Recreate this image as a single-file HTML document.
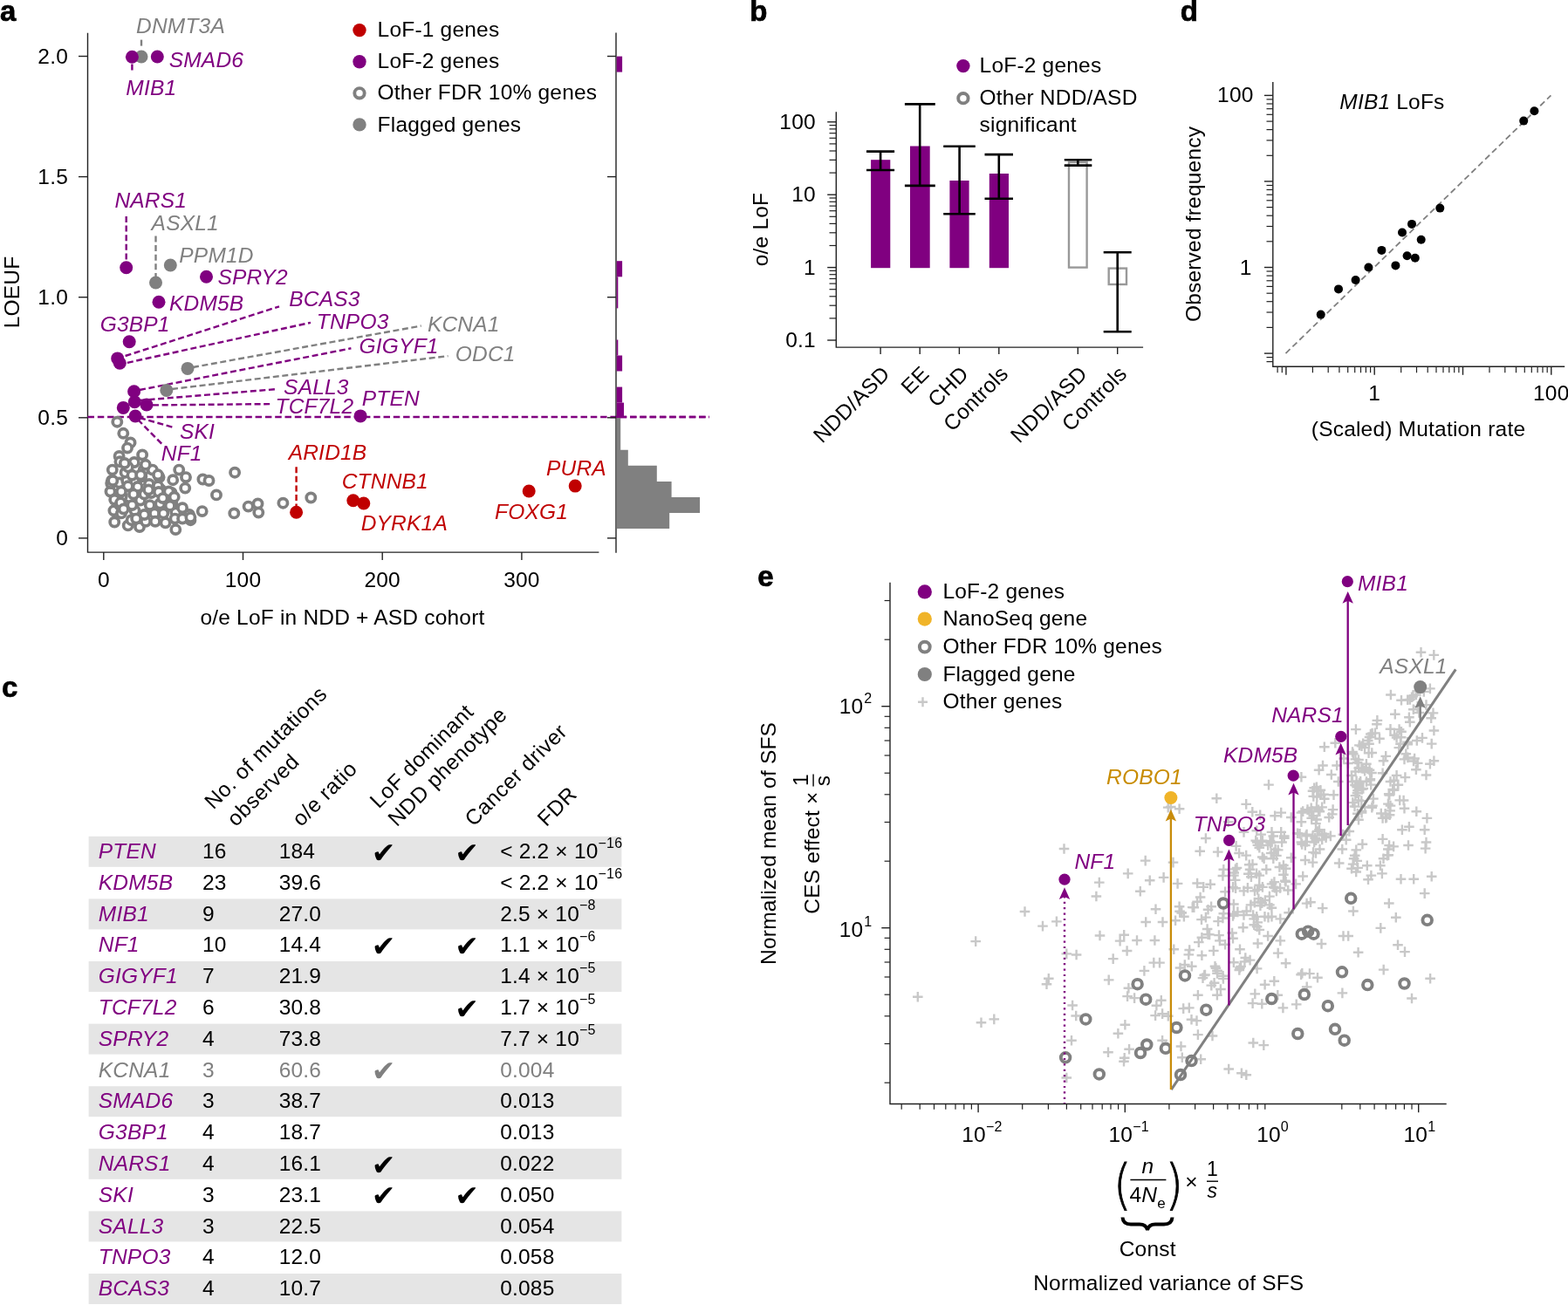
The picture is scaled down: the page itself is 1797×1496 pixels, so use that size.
<!DOCTYPE html>
<html><head><meta charset="utf-8"><title>Figure</title>
<style>html,body{margin:0;padding:0;background:#fff;}svg{display:block;}
</style></head>
<body><svg width="1797" height="1496" viewBox="0 0 1797 1496" font-family="'Liberation Sans', Arial, Helvetica, sans-serif" font-size="24.5" letter-spacing="0.2">
<rect width="1797" height="1496" fill="#fff"/>
<text x="0" y="23.8" font-size="33" font-weight="bold" stroke="#000" stroke-width="0.7">a</text>
<path d="M100.5 37.8 V633.1 H686.4" fill="none" stroke="#222" stroke-width="1.4"/>
<line x1="90" y1="64.5" x2="100.5" y2="64.5" stroke="#222" stroke-width="1.4"/>
<text x="78" y="72.9" text-anchor="end">2.0</text>
<line x1="90" y1="202.6" x2="100.5" y2="202.6" stroke="#222" stroke-width="1.4"/>
<text x="78" y="211" text-anchor="end">1.5</text>
<line x1="90" y1="340.7" x2="100.5" y2="340.7" stroke="#222" stroke-width="1.4"/>
<text x="78" y="349.1" text-anchor="end">1.0</text>
<line x1="90" y1="478.8" x2="100.5" y2="478.8" stroke="#222" stroke-width="1.4"/>
<text x="78" y="487.2" text-anchor="end">0.5</text>
<line x1="90" y1="616.9" x2="100.5" y2="616.9" stroke="#222" stroke-width="1.4"/>
<text x="78" y="625.3" text-anchor="end">0</text>
<line x1="118.8" y1="633.1" x2="118.8" y2="642" stroke="#222" stroke-width="1.4"/>
<text x="118.8" y="673.2" text-anchor="middle">0</text>
<line x1="278.5" y1="633.1" x2="278.5" y2="642" stroke="#222" stroke-width="1.4"/>
<text x="278.5" y="673.2" text-anchor="middle">100</text>
<line x1="438.2" y1="633.1" x2="438.2" y2="642" stroke="#222" stroke-width="1.4"/>
<text x="438.2" y="673.2" text-anchor="middle">200</text>
<line x1="597.9" y1="633.1" x2="597.9" y2="642" stroke="#222" stroke-width="1.4"/>
<text x="597.9" y="673.2" text-anchor="middle">300</text>
<text x="392.5" y="716.1" text-anchor="middle">o/e LoF in NDD + ASD cohort</text>
<text x="0" y="0" text-anchor="middle" transform="translate(22.1 335) rotate(-90)">LOEUF</text>
<line x1="100.5" y1="478" x2="813" y2="478" stroke="#800080" stroke-width="2.4" stroke-dasharray="7.5 3.8"/>
<circle cx="134.3" cy="483.7" r="5.1" fill="#fff" stroke="#808080" stroke-width="3.7"/>
<circle cx="141.3" cy="496.8" r="5.1" fill="#fff" stroke="#808080" stroke-width="3.7"/>
<circle cx="149.5" cy="507.4" r="5.1" fill="#fff" stroke="#808080" stroke-width="3.7"/>
<circle cx="146" cy="513.6" r="5.1" fill="#fff" stroke="#808080" stroke-width="3.7"/>
<circle cx="163.1" cy="521.4" r="5.1" fill="#fff" stroke="#808080" stroke-width="3.7"/>
<circle cx="136.6" cy="523" r="5.1" fill="#fff" stroke="#808080" stroke-width="3.7"/>
<circle cx="137.4" cy="529.2" r="5.1" fill="#fff" stroke="#808080" stroke-width="3.7"/>
<circle cx="153.8" cy="530" r="5.1" fill="#fff" stroke="#808080" stroke-width="3.7"/>
<circle cx="128.8" cy="538.6" r="5.1" fill="#fff" stroke="#808080" stroke-width="3.7"/>
<circle cx="164.7" cy="538.6" r="5.1" fill="#fff" stroke="#808080" stroke-width="3.7"/>
<circle cx="174.8" cy="538.6" r="5.1" fill="#fff" stroke="#808080" stroke-width="3.7"/>
<circle cx="205.2" cy="538.6" r="5.1" fill="#fff" stroke="#808080" stroke-width="3.7"/>
<circle cx="136.6" cy="553.4" r="5.1" fill="#fff" stroke="#808080" stroke-width="3.7"/>
<circle cx="145.2" cy="551" r="5.1" fill="#fff" stroke="#808080" stroke-width="3.7"/>
<circle cx="162.3" cy="546.3" r="5.1" fill="#fff" stroke="#808080" stroke-width="3.7"/>
<circle cx="182.6" cy="547.1" r="5.1" fill="#fff" stroke="#808080" stroke-width="3.7"/>
<circle cx="198.2" cy="550.2" r="5.1" fill="#fff" stroke="#808080" stroke-width="3.7"/>
<circle cx="213" cy="547.1" r="5.1" fill="#fff" stroke="#808080" stroke-width="3.7"/>
<circle cx="232.4" cy="549.5" r="5.1" fill="#fff" stroke="#808080" stroke-width="3.7"/>
<circle cx="239.5" cy="551" r="5.1" fill="#fff" stroke="#808080" stroke-width="3.7"/>
<circle cx="269.1" cy="541.7" r="5.1" fill="#fff" stroke="#808080" stroke-width="3.7"/>
<circle cx="126.5" cy="563.5" r="5.1" fill="#fff" stroke="#808080" stroke-width="3.7"/>
<circle cx="157.7" cy="558" r="5.1" fill="#fff" stroke="#808080" stroke-width="3.7"/>
<circle cx="170.9" cy="554.9" r="5.1" fill="#fff" stroke="#808080" stroke-width="3.7"/>
<circle cx="184.1" cy="561.1" r="5.1" fill="#fff" stroke="#808080" stroke-width="3.7"/>
<circle cx="196.6" cy="565" r="5.1" fill="#fff" stroke="#808080" stroke-width="3.7"/>
<circle cx="212.2" cy="559.6" r="5.1" fill="#fff" stroke="#808080" stroke-width="3.7"/>
<circle cx="248" cy="567.4" r="5.1" fill="#fff" stroke="#808080" stroke-width="3.7"/>
<circle cx="139.7" cy="568.9" r="5.1" fill="#fff" stroke="#808080" stroke-width="3.7"/>
<circle cx="160.8" cy="573.6" r="5.1" fill="#fff" stroke="#808080" stroke-width="3.7"/>
<circle cx="183.4" cy="577.5" r="5.1" fill="#fff" stroke="#808080" stroke-width="3.7"/>
<circle cx="197.4" cy="577.5" r="5.1" fill="#fff" stroke="#808080" stroke-width="3.7"/>
<circle cx="130.4" cy="585.3" r="5.1" fill="#fff" stroke="#808080" stroke-width="3.7"/>
<circle cx="139" cy="588.4" r="5.1" fill="#fff" stroke="#808080" stroke-width="3.7"/>
<circle cx="154.5" cy="585.3" r="5.1" fill="#fff" stroke="#808080" stroke-width="3.7"/>
<circle cx="177.1" cy="588.4" r="5.1" fill="#fff" stroke="#808080" stroke-width="3.7"/>
<circle cx="201.3" cy="587.6" r="5.1" fill="#fff" stroke="#808080" stroke-width="3.7"/>
<circle cx="216.9" cy="590" r="5.1" fill="#fff" stroke="#808080" stroke-width="3.7"/>
<circle cx="231.7" cy="586.1" r="5.1" fill="#fff" stroke="#808080" stroke-width="3.7"/>
<circle cx="268.3" cy="588.4" r="5.1" fill="#fff" stroke="#808080" stroke-width="3.7"/>
<circle cx="284.6" cy="580.6" r="5.1" fill="#fff" stroke="#808080" stroke-width="3.7"/>
<circle cx="295.5" cy="577.5" r="5.1" fill="#fff" stroke="#808080" stroke-width="3.7"/>
<circle cx="296.3" cy="587.6" r="5.1" fill="#fff" stroke="#808080" stroke-width="3.7"/>
<circle cx="324.4" cy="576.7" r="5.1" fill="#fff" stroke="#808080" stroke-width="3.7"/>
<circle cx="356.3" cy="570.5" r="5.1" fill="#fff" stroke="#808080" stroke-width="3.7"/>
<circle cx="131.2" cy="598.5" r="5.1" fill="#fff" stroke="#808080" stroke-width="3.7"/>
<circle cx="146.7" cy="602.4" r="5.1" fill="#fff" stroke="#808080" stroke-width="3.7"/>
<circle cx="150.6" cy="596.2" r="5.1" fill="#fff" stroke="#808080" stroke-width="3.7"/>
<circle cx="160" cy="604" r="5.1" fill="#fff" stroke="#808080" stroke-width="3.7"/>
<circle cx="167" cy="597.8" r="5.1" fill="#fff" stroke="#808080" stroke-width="3.7"/>
<circle cx="189.6" cy="599.3" r="5.1" fill="#fff" stroke="#808080" stroke-width="3.7"/>
<circle cx="200.5" cy="594.6" r="5.1" fill="#fff" stroke="#808080" stroke-width="3.7"/>
<circle cx="201.3" cy="607.1" r="5.1" fill="#fff" stroke="#808080" stroke-width="3.7"/>
<circle cx="218.4" cy="596.2" r="5.1" fill="#fff" stroke="#808080" stroke-width="3.7"/>
<circle cx="143.6" cy="541.7" r="5.1" fill="#fff" stroke="#808080" stroke-width="3.7"/>
<circle cx="146.7" cy="557.3" r="5.1" fill="#fff" stroke="#808080" stroke-width="3.7"/>
<circle cx="153" cy="566.6" r="5.1" fill="#fff" stroke="#808080" stroke-width="3.7"/>
<circle cx="143.6" cy="579.1" r="5.1" fill="#fff" stroke="#808080" stroke-width="3.7"/>
<circle cx="165.4" cy="566.6" r="5.1" fill="#fff" stroke="#808080" stroke-width="3.7"/>
<circle cx="171.7" cy="579.1" r="5.1" fill="#fff" stroke="#808080" stroke-width="3.7"/>
<circle cx="187.3" cy="569.7" r="5.1" fill="#fff" stroke="#808080" stroke-width="3.7"/>
<circle cx="193.5" cy="563.5" r="5.1" fill="#fff" stroke="#808080" stroke-width="3.7"/>
<circle cx="199.7" cy="569.7" r="5.1" fill="#fff" stroke="#808080" stroke-width="3.7"/>
<circle cx="209.1" cy="582.2" r="5.1" fill="#fff" stroke="#808080" stroke-width="3.7"/>
<circle cx="165.4" cy="590" r="5.1" fill="#fff" stroke="#808080" stroke-width="3.7"/>
<circle cx="187.3" cy="588.4" r="5.1" fill="#fff" stroke="#808080" stroke-width="3.7"/>
<circle cx="146.7" cy="535.4" r="5.1" fill="#fff" stroke="#808080" stroke-width="3.7"/>
<circle cx="139" cy="563.5" r="5.1" fill="#fff" stroke="#808080" stroke-width="3.7"/>
<circle cx="131.2" cy="572.8" r="5.1" fill="#fff" stroke="#808080" stroke-width="3.7"/>
<circle cx="151.4" cy="544.8" r="5.1" fill="#fff" stroke="#808080" stroke-width="3.7"/>
<circle cx="173.2" cy="565" r="5.1" fill="#fff" stroke="#808080" stroke-width="3.7"/>
<circle cx="181" cy="557.3" r="5.1" fill="#fff" stroke="#808080" stroke-width="3.7"/>
<circle cx="193.5" cy="579.1" r="5.1" fill="#fff" stroke="#808080" stroke-width="3.7"/>
<circle cx="209.1" cy="594.6" r="5.1" fill="#fff" stroke="#808080" stroke-width="3.7"/>
<circle cx="218.4" cy="593.1" r="5.1" fill="#fff" stroke="#808080" stroke-width="3.7"/>
<circle cx="177.9" cy="597.8" r="5.1" fill="#fff" stroke="#808080" stroke-width="3.7"/>
<circle cx="156.1" cy="594.6" r="5.1" fill="#fff" stroke="#808080" stroke-width="3.7"/>
<circle cx="137.4" cy="579.1" r="5.1" fill="#fff" stroke="#808080" stroke-width="3.7"/>
<circle cx="128" cy="551" r="5.1" fill="#fff" stroke="#808080" stroke-width="3.7"/>
<circle cx="151.4" cy="579.1" r="5.1" fill="#fff" stroke="#808080" stroke-width="3.7"/>
<circle cx="138.2" cy="576.3" r="5.1" fill="#fff" stroke="#808080" stroke-width="3.7"/>
<circle cx="170.2" cy="561.5" r="5.1" fill="#fff" stroke="#808080" stroke-width="3.7"/>
<circle cx="141.7" cy="583.5" r="5.1" fill="#fff" stroke="#808080" stroke-width="3.7"/>
<circle cx="181.9" cy="563.9" r="5.1" fill="#fff" stroke="#808080" stroke-width="3.7"/>
<circle cx="161.3" cy="544.5" r="5.1" fill="#fff" stroke="#808080" stroke-width="3.7"/>
<circle cx="127.2" cy="554" r="5.1" fill="#fff" stroke="#808080" stroke-width="3.7"/>
<circle cx="166.8" cy="532.8" r="5.1" fill="#fff" stroke="#808080" stroke-width="3.7"/>
<circle cx="181" cy="544.3" r="5.1" fill="#fff" stroke="#808080" stroke-width="3.7"/>
<circle cx="142.8" cy="531" r="5.1" fill="#fff" stroke="#808080" stroke-width="3.7"/>
<circle cx="194.8" cy="579.7" r="5.1" fill="#fff" stroke="#808080" stroke-width="3.7"/>
<circle cx="186.5" cy="571.1" r="5.1" fill="#fff" stroke="#808080" stroke-width="3.7"/>
<circle cx="129.3" cy="551" r="5.1" fill="#fff" stroke="#808080" stroke-width="3.7"/>
<line x1="162" y1="45.6" x2="162" y2="55.7" stroke="#808080" stroke-width="2.4" stroke-dasharray="7 3.6"/>
<line x1="151.4" y1="73.5" x2="151.4" y2="81.3" stroke="#800080" stroke-width="2.4" stroke-dasharray="7 3.6"/>
<line x1="144.7" y1="248" x2="144.7" y2="298" stroke="#800080" stroke-width="2.4" stroke-dasharray="7 3.6"/>
<line x1="178.5" y1="270.5" x2="178.5" y2="318" stroke="#808080" stroke-width="2.4" stroke-dasharray="7 3.6"/>
<line x1="143.6" y1="408" x2="320" y2="351.3" stroke="#800080" stroke-width="2.4" stroke-dasharray="7 3.6"/>
<line x1="145.9" y1="415.8" x2="356" y2="369.8" stroke="#800080" stroke-width="2.4" stroke-dasharray="7 3.6"/>
<line x1="221" y1="421" x2="482.7" y2="373.5" stroke="#808080" stroke-width="2.4" stroke-dasharray="7 3.6"/>
<line x1="160" y1="447" x2="402.4" y2="399.3" stroke="#800080" stroke-width="2.4" stroke-dasharray="7 3.6"/>
<line x1="197" y1="446" x2="513.5" y2="408.1" stroke="#808080" stroke-width="2.4" stroke-dasharray="7 3.6"/>
<line x1="160" y1="459" x2="318" y2="446" stroke="#800080" stroke-width="2.4" stroke-dasharray="7 3.6"/>
<line x1="175" y1="464.4" x2="310.7" y2="463.1" stroke="#800080" stroke-width="2.4" stroke-dasharray="7 3.6"/>
<line x1="160" y1="479" x2="200.4" y2="490.4" stroke="#800080" stroke-width="2.4" stroke-dasharray="7 3.6"/>
<line x1="158" y1="481" x2="187" y2="510.5" stroke="#800080" stroke-width="2.4" stroke-dasharray="7 3.6"/>
<line x1="339.6" y1="535.2" x2="339.6" y2="581.5" stroke="#c00000" stroke-width="2.4" stroke-dasharray="7 3.6"/>
<circle cx="162" cy="65" r="7.5" fill="#808080"/>
<circle cx="151.4" cy="65.2" r="7.5" fill="#800080"/>
<circle cx="180.3" cy="65" r="7.5" fill="#800080"/>
<circle cx="144.7" cy="306.8" r="7.5" fill="#800080"/>
<circle cx="236.5" cy="317.3" r="7.5" fill="#800080"/>
<circle cx="182" cy="346.3" r="7.5" fill="#800080"/>
<circle cx="148.2" cy="391.7" r="7.5" fill="#800080"/>
<circle cx="134.7" cy="410.9" r="7.5" fill="#800080"/>
<circle cx="137.3" cy="416.2" r="7.5" fill="#800080"/>
<circle cx="153.6" cy="448.7" r="7.5" fill="#800080"/>
<circle cx="154.3" cy="460.8" r="7.5" fill="#800080"/>
<circle cx="168" cy="464" r="7.5" fill="#800080"/>
<circle cx="141.3" cy="467.4" r="7.5" fill="#800080"/>
<circle cx="155.1" cy="477" r="7.5" fill="#800080"/>
<circle cx="413.1" cy="476.9" r="7.5" fill="#800080"/>
<circle cx="178.5" cy="324" r="7.5" fill="#808080"/>
<circle cx="195.3" cy="304" r="7.5" fill="#808080"/>
<circle cx="215" cy="422.4" r="7.5" fill="#808080"/>
<circle cx="190.8" cy="447.4" r="7.5" fill="#808080"/>
<circle cx="339.6" cy="587.2" r="7.5" fill="#c00000"/>
<circle cx="404.8" cy="573.7" r="7.5" fill="#c00000"/>
<circle cx="416.8" cy="577" r="7.5" fill="#c00000"/>
<circle cx="606.2" cy="563" r="7.5" fill="#c00000"/>
<circle cx="659.2" cy="557.1" r="7.5" fill="#c00000"/>
<text x="156" y="38.3" font-style="italic" fill="#808080">DNMT3A</text>
<text x="193.7" y="76.8" font-style="italic" fill="#800080">SMAD6</text>
<text x="144.3" y="108.7" font-style="italic" fill="#800080">MIB1</text>
<text x="131.4" y="238.3" font-style="italic" fill="#800080">NARS1</text>
<text x="173.6" y="263.8" font-style="italic" fill="#808080">ASXL1</text>
<text x="205.3" y="300.5" font-style="italic" fill="#808080">PPM1D</text>
<text x="249.4" y="326" font-style="italic" fill="#800080">SPRY2</text>
<text x="194" y="355.6" font-style="italic" fill="#800080">KDM5B</text>
<text x="331.3" y="350.5" font-style="italic" fill="#800080">BCAS3</text>
<text x="114.7" y="379.7" font-style="italic" fill="#800080">G3BP1</text>
<text x="362.8" y="376.6" font-style="italic" fill="#800080">TNPO3</text>
<text x="489.9" y="379.7" font-style="italic" fill="#808080">KCNA1</text>
<text x="411.6" y="405.4" font-style="italic" fill="#800080">GIGYF1</text>
<text x="521.8" y="414.3" font-style="italic" fill="#808080">ODC1</text>
<text x="325.1" y="451.8" font-style="italic" fill="#800080">SALL3</text>
<text x="315.5" y="474" font-style="italic" fill="#800080">TCF7L2</text>
<text x="414.7" y="465.2" font-style="italic" fill="#800080">PTEN</text>
<text x="206" y="502.6" font-style="italic" fill="#800080">SKI</text>
<text x="184.8" y="527.5" font-style="italic" fill="#800080">NF1</text>
<text x="330.7" y="526.9" font-style="italic" fill="#c00000">ARID1B</text>
<text x="391.7" y="559.9" font-style="italic" fill="#c00000">CTNNB1</text>
<text x="413.7" y="608.2" font-style="italic" fill="#c00000">DYRK1A</text>
<text x="567" y="594.9" font-style="italic" fill="#c00000">FOXG1</text>
<text x="626" y="544.6" font-style="italic" fill="#c00000">PURA</text>
<circle cx="412" cy="34.6" r="7.7" fill="#c00000"/>
<text x="432.6" y="42.2">LoF-1 genes</text>
<circle cx="412" cy="70.7" r="7.7" fill="#800080"/>
<text x="432.6" y="78.3">LoF-2 genes</text>
<circle cx="412" cy="106.8" r="5.7" fill="#fff" stroke="#808080" stroke-width="3.9"/>
<text x="432.6" y="114.4">Other FDR 10% genes</text>
<circle cx="412" cy="142.9" r="7.7" fill="#808080"/>
<text x="432.6" y="150.5">Flagged genes</text>
<path d="M706 37.6 V633.7" fill="none" stroke="#222" stroke-width="1.4"/>
<line x1="696" y1="64.5" x2="706" y2="64.5" stroke="#222" stroke-width="1.4"/>
<line x1="696" y1="202.6" x2="706" y2="202.6" stroke="#222" stroke-width="1.4"/>
<line x1="696" y1="340.7" x2="706" y2="340.7" stroke="#222" stroke-width="1.4"/>
<line x1="696" y1="478.8" x2="706" y2="478.8" stroke="#222" stroke-width="1.4"/>
<line x1="696" y1="616.9" x2="706" y2="616.9" stroke="#222" stroke-width="1.4"/>
<rect x="706.7" y="64.6" width="6.4" height="18" fill="#800080"/>
<rect x="706.7" y="299.2" width="6.4" height="18.1" fill="#800080"/>
<rect x="706.7" y="317.3" width="1.6" height="36.1" fill="#800080"/>
<rect x="706.7" y="389.5" width="1.6" height="18" fill="#800080"/>
<rect x="706.7" y="407.5" width="6.4" height="18" fill="#800080"/>
<rect x="706.7" y="443.6" width="6.4" height="18" fill="#800080"/>
<rect x="706.7" y="461.6" width="8.3" height="17.4" fill="#800080"/>
<path d="M706.7 479H711.2V515.8H719.8V533.8H752.8V551.9H769.6V569.9H802.1V588H767.2V606H706.7Z" fill="#808080"/>
<line x1="706" y1="478" x2="813" y2="478" stroke="#800080" stroke-width="2.4" stroke-dasharray="7.5 3.8" stroke-dashoffset="6.6"/>
<text x="859.2" y="23.8" font-size="33" font-weight="bold" stroke="#000" stroke-width="0.7">b</text>
<path d="M958.3 128.2 V398.1 H1310.1" fill="none" stroke="#222" stroke-width="1.4"/>
<line x1="948.2" y1="390" x2="958.3" y2="390" stroke="#222" stroke-width="1.4"/>
<line x1="948.2" y1="306.6" x2="958.3" y2="306.6" stroke="#222" stroke-width="1.4"/>
<line x1="948.2" y1="223.2" x2="958.3" y2="223.2" stroke="#222" stroke-width="1.4"/>
<line x1="948.2" y1="139.8" x2="958.3" y2="139.8" stroke="#222" stroke-width="1.4"/>
<line x1="950.5" y1="364.9" x2="958.3" y2="364.9" stroke="#222" stroke-width="1.2"/>
<line x1="950.5" y1="350.2" x2="958.3" y2="350.2" stroke="#222" stroke-width="1.2"/>
<line x1="950.5" y1="339.8" x2="958.3" y2="339.8" stroke="#222" stroke-width="1.2"/>
<line x1="950.5" y1="331.7" x2="958.3" y2="331.7" stroke="#222" stroke-width="1.2"/>
<line x1="950.5" y1="325.1" x2="958.3" y2="325.1" stroke="#222" stroke-width="1.2"/>
<line x1="950.5" y1="319.5" x2="958.3" y2="319.5" stroke="#222" stroke-width="1.2"/>
<line x1="950.5" y1="314.7" x2="958.3" y2="314.7" stroke="#222" stroke-width="1.2"/>
<line x1="950.5" y1="310.4" x2="958.3" y2="310.4" stroke="#222" stroke-width="1.2"/>
<line x1="950.5" y1="281.5" x2="958.3" y2="281.5" stroke="#222" stroke-width="1.2"/>
<line x1="950.5" y1="266.8" x2="958.3" y2="266.8" stroke="#222" stroke-width="1.2"/>
<line x1="950.5" y1="256.4" x2="958.3" y2="256.4" stroke="#222" stroke-width="1.2"/>
<line x1="950.5" y1="248.3" x2="958.3" y2="248.3" stroke="#222" stroke-width="1.2"/>
<line x1="950.5" y1="241.7" x2="958.3" y2="241.7" stroke="#222" stroke-width="1.2"/>
<line x1="950.5" y1="236.1" x2="958.3" y2="236.1" stroke="#222" stroke-width="1.2"/>
<line x1="950.5" y1="231.3" x2="958.3" y2="231.3" stroke="#222" stroke-width="1.2"/>
<line x1="950.5" y1="227" x2="958.3" y2="227" stroke="#222" stroke-width="1.2"/>
<line x1="950.5" y1="198.1" x2="958.3" y2="198.1" stroke="#222" stroke-width="1.2"/>
<line x1="950.5" y1="183.4" x2="958.3" y2="183.4" stroke="#222" stroke-width="1.2"/>
<line x1="950.5" y1="173" x2="958.3" y2="173" stroke="#222" stroke-width="1.2"/>
<line x1="950.5" y1="164.9" x2="958.3" y2="164.9" stroke="#222" stroke-width="1.2"/>
<line x1="950.5" y1="158.3" x2="958.3" y2="158.3" stroke="#222" stroke-width="1.2"/>
<line x1="950.5" y1="152.7" x2="958.3" y2="152.7" stroke="#222" stroke-width="1.2"/>
<line x1="950.5" y1="147.9" x2="958.3" y2="147.9" stroke="#222" stroke-width="1.2"/>
<line x1="950.5" y1="143.6" x2="958.3" y2="143.6" stroke="#222" stroke-width="1.2"/>
<text x="934.8" y="148" text-anchor="end">100</text>
<text x="934.8" y="231.4" text-anchor="end">10</text>
<text x="934.8" y="314.8" text-anchor="end">1</text>
<text x="934.8" y="398.2" text-anchor="end">0.1</text>
<text x="0" y="0" text-anchor="middle" transform="translate(879.5 263) rotate(-90)">o/e LoF</text>
<rect x="998.1" y="183.2" width="22.2" height="124" fill="#800080"/>
<rect x="1043" y="167.5" width="22.7" height="139.7" fill="#800080"/>
<rect x="1088.4" y="207" width="22.2" height="100.2" fill="#800080"/>
<rect x="1133.8" y="199" width="22.2" height="108.2" fill="#800080"/>
<rect x="1225" y="186" width="20.6" height="120.6" fill="none" stroke="#999" stroke-width="2.4"/>
<rect x="1270.7" y="307.6" width="20.3" height="18.4" fill="none" stroke="#999" stroke-width="2.4"/>
<line x1="1009.1" y1="173.6" x2="1009.1" y2="195" stroke="#000" stroke-width="2.6"/>
<line x1="993" y1="173.6" x2="1025.1" y2="173.6" stroke="#000" stroke-width="2.6"/>
<line x1="993" y1="195" x2="1025.1" y2="195" stroke="#000" stroke-width="2.6"/>
<line x1="1054.2" y1="119.4" x2="1054.2" y2="212.9" stroke="#000" stroke-width="2.6"/>
<line x1="1036.9" y1="119.4" x2="1071.8" y2="119.4" stroke="#000" stroke-width="2.6"/>
<line x1="1036.9" y1="212.9" x2="1071.8" y2="212.9" stroke="#000" stroke-width="2.6"/>
<line x1="1099.6" y1="167.7" x2="1099.6" y2="245.2" stroke="#000" stroke-width="2.6"/>
<line x1="1081.2" y1="167.7" x2="1117.8" y2="167.7" stroke="#000" stroke-width="2.6"/>
<line x1="1081.2" y1="245.2" x2="1117.8" y2="245.2" stroke="#000" stroke-width="2.6"/>
<line x1="1144.8" y1="177.1" x2="1144.8" y2="227.8" stroke="#000" stroke-width="2.6"/>
<line x1="1128.5" y1="177.1" x2="1161" y2="177.1" stroke="#000" stroke-width="2.6"/>
<line x1="1128.5" y1="227.8" x2="1161" y2="227.8" stroke="#000" stroke-width="2.6"/>
<line x1="1235.3" y1="183.2" x2="1235.3" y2="189.6" stroke="#000" stroke-width="2.6"/>
<line x1="1219.8" y1="183.2" x2="1251.3" y2="183.2" stroke="#000" stroke-width="2.6"/>
<line x1="1219.8" y1="189.6" x2="1251.3" y2="189.6" stroke="#000" stroke-width="2.6"/>
<line x1="1280.7" y1="289.3" x2="1280.7" y2="380.2" stroke="#000" stroke-width="2.6"/>
<line x1="1264.7" y1="289.3" x2="1296.7" y2="289.3" stroke="#000" stroke-width="2.6"/>
<line x1="1264.7" y1="380.2" x2="1296.7" y2="380.2" stroke="#000" stroke-width="2.6"/>
<line x1="1009.1" y1="398.1" x2="1009.1" y2="406" stroke="#222" stroke-width="1.4"/>
<line x1="1054.2" y1="398.1" x2="1054.2" y2="406" stroke="#222" stroke-width="1.4"/>
<line x1="1099.4" y1="398.1" x2="1099.4" y2="406" stroke="#222" stroke-width="1.4"/>
<line x1="1144.8" y1="398.1" x2="1144.8" y2="406" stroke="#222" stroke-width="1.4"/>
<line x1="1235.3" y1="398.1" x2="1235.3" y2="406" stroke="#222" stroke-width="1.4"/>
<line x1="1280.7" y1="398.1" x2="1280.7" y2="406" stroke="#222" stroke-width="1.4"/>
<text x="0" y="0" text-anchor="end" transform="translate(1021.1 430) rotate(-45)">NDD/ASD</text>
<text x="0" y="0" text-anchor="end" transform="translate(1066.2 430) rotate(-45)">EE</text>
<text x="0" y="0" text-anchor="end" transform="translate(1111.4 430) rotate(-45)">CHD</text>
<text x="0" y="0" text-anchor="end" transform="translate(1156.8 430) rotate(-45)">Controls</text>
<text x="0" y="0" text-anchor="end" transform="translate(1247.3 430) rotate(-45)">NDD/ASD</text>
<text x="0" y="0" text-anchor="end" transform="translate(1292.7 430) rotate(-45)">Controls</text>
<circle cx="1103.9" cy="75.6" r="7.7" fill="#800080"/>
<text x="1122.6" y="82.6">LoF-2 genes</text>
<circle cx="1103.9" cy="112.7" r="5.7" fill="#fff" stroke="#808080" stroke-width="3.9"/>
<text x="1122.6" y="120.4">Other NDD/ASD</text>
<text x="1122.6" y="150.9">significant</text>
<text x="1352.7" y="24.2" font-size="33" font-weight="bold" stroke="#000" stroke-width="0.7">d</text>
<path d="M1458.8 94.1 V420.2 H1793.2" fill="none" stroke="#222" stroke-width="1.4"/>
<line x1="1448.9" y1="405.1" x2="1458.8" y2="405.1" stroke="#222" stroke-width="1.4"/>
<line x1="1473.9" y1="420.2" x2="1473.9" y2="429.8" stroke="#222" stroke-width="1.4"/>
<line x1="1448.9" y1="306.5" x2="1458.8" y2="306.5" stroke="#222" stroke-width="1.4"/>
<line x1="1575.2" y1="420.2" x2="1575.2" y2="429.8" stroke="#222" stroke-width="1.4"/>
<line x1="1448.9" y1="207.9" x2="1458.8" y2="207.9" stroke="#222" stroke-width="1.4"/>
<line x1="1676.5" y1="420.2" x2="1676.5" y2="429.8" stroke="#222" stroke-width="1.4"/>
<line x1="1448.9" y1="109.4" x2="1458.8" y2="109.4" stroke="#222" stroke-width="1.4"/>
<line x1="1777.8" y1="420.2" x2="1777.8" y2="429.8" stroke="#222" stroke-width="1.4"/>
<line x1="1451.5" y1="414.6" x2="1458.8" y2="414.6" stroke="#222" stroke-width="1.2"/>
<line x1="1464.1" y1="420.2" x2="1464.1" y2="427.3" stroke="#222" stroke-width="1.2"/>
<line x1="1451.5" y1="409.6" x2="1458.8" y2="409.6" stroke="#222" stroke-width="1.2"/>
<line x1="1469.3" y1="420.2" x2="1469.3" y2="427.3" stroke="#222" stroke-width="1.2"/>
<line x1="1451.5" y1="375.4" x2="1458.8" y2="375.4" stroke="#222" stroke-width="1.2"/>
<line x1="1504.4" y1="420.2" x2="1504.4" y2="427.3" stroke="#222" stroke-width="1.2"/>
<line x1="1451.5" y1="358" x2="1458.8" y2="358" stroke="#222" stroke-width="1.2"/>
<line x1="1522.2" y1="420.2" x2="1522.2" y2="427.3" stroke="#222" stroke-width="1.2"/>
<line x1="1451.5" y1="345.7" x2="1458.8" y2="345.7" stroke="#222" stroke-width="1.2"/>
<line x1="1534.9" y1="420.2" x2="1534.9" y2="427.3" stroke="#222" stroke-width="1.2"/>
<line x1="1451.5" y1="336.2" x2="1458.8" y2="336.2" stroke="#222" stroke-width="1.2"/>
<line x1="1544.7" y1="420.2" x2="1544.7" y2="427.3" stroke="#222" stroke-width="1.2"/>
<line x1="1451.5" y1="328.4" x2="1458.8" y2="328.4" stroke="#222" stroke-width="1.2"/>
<line x1="1552.7" y1="420.2" x2="1552.7" y2="427.3" stroke="#222" stroke-width="1.2"/>
<line x1="1451.5" y1="321.8" x2="1458.8" y2="321.8" stroke="#222" stroke-width="1.2"/>
<line x1="1559.5" y1="420.2" x2="1559.5" y2="427.3" stroke="#222" stroke-width="1.2"/>
<line x1="1451.5" y1="316.1" x2="1458.8" y2="316.1" stroke="#222" stroke-width="1.2"/>
<line x1="1565.4" y1="420.2" x2="1565.4" y2="427.3" stroke="#222" stroke-width="1.2"/>
<line x1="1451.5" y1="311" x2="1458.8" y2="311" stroke="#222" stroke-width="1.2"/>
<line x1="1570.6" y1="420.2" x2="1570.6" y2="427.3" stroke="#222" stroke-width="1.2"/>
<line x1="1451.5" y1="276.8" x2="1458.8" y2="276.8" stroke="#222" stroke-width="1.2"/>
<line x1="1605.7" y1="420.2" x2="1605.7" y2="427.3" stroke="#222" stroke-width="1.2"/>
<line x1="1451.5" y1="259.5" x2="1458.8" y2="259.5" stroke="#222" stroke-width="1.2"/>
<line x1="1623.5" y1="420.2" x2="1623.5" y2="427.3" stroke="#222" stroke-width="1.2"/>
<line x1="1451.5" y1="247.2" x2="1458.8" y2="247.2" stroke="#222" stroke-width="1.2"/>
<line x1="1636.2" y1="420.2" x2="1636.2" y2="427.3" stroke="#222" stroke-width="1.2"/>
<line x1="1451.5" y1="237.6" x2="1458.8" y2="237.6" stroke="#222" stroke-width="1.2"/>
<line x1="1646" y1="420.2" x2="1646" y2="427.3" stroke="#222" stroke-width="1.2"/>
<line x1="1451.5" y1="229.8" x2="1458.8" y2="229.8" stroke="#222" stroke-width="1.2"/>
<line x1="1654" y1="420.2" x2="1654" y2="427.3" stroke="#222" stroke-width="1.2"/>
<line x1="1451.5" y1="223.2" x2="1458.8" y2="223.2" stroke="#222" stroke-width="1.2"/>
<line x1="1660.8" y1="420.2" x2="1660.8" y2="427.3" stroke="#222" stroke-width="1.2"/>
<line x1="1451.5" y1="217.5" x2="1458.8" y2="217.5" stroke="#222" stroke-width="1.2"/>
<line x1="1666.7" y1="420.2" x2="1666.7" y2="427.3" stroke="#222" stroke-width="1.2"/>
<line x1="1451.5" y1="212.5" x2="1458.8" y2="212.5" stroke="#222" stroke-width="1.2"/>
<line x1="1671.9" y1="420.2" x2="1671.9" y2="427.3" stroke="#222" stroke-width="1.2"/>
<line x1="1451.5" y1="178.3" x2="1458.8" y2="178.3" stroke="#222" stroke-width="1.2"/>
<line x1="1707" y1="420.2" x2="1707" y2="427.3" stroke="#222" stroke-width="1.2"/>
<line x1="1451.5" y1="160.9" x2="1458.8" y2="160.9" stroke="#222" stroke-width="1.2"/>
<line x1="1724.8" y1="420.2" x2="1724.8" y2="427.3" stroke="#222" stroke-width="1.2"/>
<line x1="1451.5" y1="148.6" x2="1458.8" y2="148.6" stroke="#222" stroke-width="1.2"/>
<line x1="1737.5" y1="420.2" x2="1737.5" y2="427.3" stroke="#222" stroke-width="1.2"/>
<line x1="1451.5" y1="139.1" x2="1458.8" y2="139.1" stroke="#222" stroke-width="1.2"/>
<line x1="1747.3" y1="420.2" x2="1747.3" y2="427.3" stroke="#222" stroke-width="1.2"/>
<line x1="1451.5" y1="131.3" x2="1458.8" y2="131.3" stroke="#222" stroke-width="1.2"/>
<line x1="1755.3" y1="420.2" x2="1755.3" y2="427.3" stroke="#222" stroke-width="1.2"/>
<line x1="1451.5" y1="124.7" x2="1458.8" y2="124.7" stroke="#222" stroke-width="1.2"/>
<line x1="1762.1" y1="420.2" x2="1762.1" y2="427.3" stroke="#222" stroke-width="1.2"/>
<line x1="1451.5" y1="119" x2="1458.8" y2="119" stroke="#222" stroke-width="1.2"/>
<line x1="1768" y1="420.2" x2="1768" y2="427.3" stroke="#222" stroke-width="1.2"/>
<line x1="1451.5" y1="113.9" x2="1458.8" y2="113.9" stroke="#222" stroke-width="1.2"/>
<line x1="1773.2" y1="420.2" x2="1773.2" y2="427.3" stroke="#222" stroke-width="1.2"/>
<text x="1436.6" y="116.9" text-anchor="end">100</text>
<text x="1434.6" y="314.6" text-anchor="end">1</text>
<text x="1575.2" y="459.1" text-anchor="middle">1</text>
<text x="1777.8" y="459.1" text-anchor="middle">100</text>
<text x="1625.5" y="499.8" text-anchor="middle">(Scaled) Mutation rate</text>
<text x="0" y="0" text-anchor="middle" transform="translate(1375.6 257) rotate(-90)">Observed frequency</text>
<text x="1535.3" y="124.6"><tspan font-style="italic">MIB1</tspan> LoFs</text>
<line x1="1473.5" y1="405.1" x2="1777.4" y2="109.4" stroke="#808080" stroke-width="1.8" stroke-dasharray="7 4"/>
<circle cx="1513.7" cy="360.6" r="5" fill="#000"/>
<circle cx="1534" cy="331.4" r="5" fill="#000"/>
<circle cx="1553.6" cy="321" r="5" fill="#000"/>
<circle cx="1568.4" cy="306.5" r="5" fill="#000"/>
<circle cx="1583.4" cy="286.9" r="5" fill="#000"/>
<circle cx="1599.4" cy="304.4" r="5" fill="#000"/>
<circle cx="1607" cy="266.5" r="5" fill="#000"/>
<circle cx="1612.6" cy="293.2" r="5" fill="#000"/>
<circle cx="1618" cy="256.9" r="5" fill="#000"/>
<circle cx="1621.8" cy="295.8" r="5" fill="#000"/>
<circle cx="1628.7" cy="274.7" r="5" fill="#000"/>
<circle cx="1650.3" cy="238.6" r="5" fill="#000"/>
<circle cx="1746.2" cy="138.6" r="5" fill="#000"/>
<circle cx="1758.4" cy="127.2" r="5" fill="#000"/>
<text x="1.9" y="798.6" font-size="33" font-weight="bold" stroke="#000" stroke-width="0.7">c</text>
<rect x="101.6" y="958.8" width="610.8" height="35" fill="#e5e5e5"/>
<text x="112.8" y="984" font-style="italic" fill="#800080">PTEN</text>
<text x="232" y="984">16</text>
<text x="319.7" y="984">184</text>
<text x="439.6" y="988.5" font-size="33" text-anchor="middle" font-family="DejaVu Sans">✔</text>
<text x="535.3" y="988.5" font-size="33" text-anchor="middle" font-family="DejaVu Sans">✔</text>
<text x="573.2" y="984">&lt; 2.2 × 10<tspan font-size="16" dy="-12.5">−16</tspan></text>
<text x="112.8" y="1019.8" font-style="italic" fill="#800080">KDM5B</text>
<text x="232" y="1019.8">23</text>
<text x="319.7" y="1019.8">39.6</text>
<text x="573.2" y="1019.8">&lt; 2.2 × 10<tspan font-size="16" dy="-12.5">−16</tspan></text>
<rect x="101.6" y="1030.4" width="610.8" height="35" fill="#e5e5e5"/>
<text x="112.8" y="1055.6" font-style="italic" fill="#800080">MIB1</text>
<text x="232" y="1055.6">9</text>
<text x="319.7" y="1055.6">27.0</text>
<text x="573.2" y="1055.6">2.5 × 10<tspan font-size="16" dy="-12.5">−8</tspan></text>
<text x="112.8" y="1091.4" font-style="italic" fill="#800080">NF1</text>
<text x="232" y="1091.4">10</text>
<text x="319.7" y="1091.4">14.4</text>
<text x="439.6" y="1095.9" font-size="33" text-anchor="middle" font-family="DejaVu Sans">✔</text>
<text x="535.3" y="1095.9" font-size="33" text-anchor="middle" font-family="DejaVu Sans">✔</text>
<text x="573.2" y="1091.4">1.1 × 10<tspan font-size="16" dy="-12.5">−6</tspan></text>
<rect x="101.6" y="1102" width="610.8" height="35" fill="#e5e5e5"/>
<text x="112.8" y="1127.2" font-style="italic" fill="#800080">GIGYF1</text>
<text x="232" y="1127.2">7</text>
<text x="319.7" y="1127.2">21.9</text>
<text x="573.2" y="1127.2">1.4 × 10<tspan font-size="16" dy="-12.5">−5</tspan></text>
<text x="112.8" y="1163" font-style="italic" fill="#800080">TCF7L2</text>
<text x="232" y="1163">6</text>
<text x="319.7" y="1163">30.8</text>
<text x="535.3" y="1167.5" font-size="33" text-anchor="middle" font-family="DejaVu Sans">✔</text>
<text x="573.2" y="1163">1.7 × 10<tspan font-size="16" dy="-12.5">−5</tspan></text>
<rect x="101.6" y="1173.6" width="610.8" height="35" fill="#e5e5e5"/>
<text x="112.8" y="1198.8" font-style="italic" fill="#800080">SPRY2</text>
<text x="232" y="1198.8">4</text>
<text x="319.7" y="1198.8">73.8</text>
<text x="573.2" y="1198.8">7.7 × 10<tspan font-size="16" dy="-12.5">−5</tspan></text>
<text x="112.8" y="1234.6" font-style="italic" fill="#808080">KCNA1</text>
<text x="232" y="1234.6" fill="#808080">3</text>
<text x="319.7" y="1234.6" fill="#808080">60.6</text>
<text x="439.6" y="1239.1" font-size="33" text-anchor="middle" fill="#808080" font-family="DejaVu Sans">✔</text>
<text x="573.2" y="1234.6" fill="#808080">0.004</text>
<rect x="101.6" y="1245.2" width="610.8" height="35" fill="#e5e5e5"/>
<text x="112.8" y="1270.4" font-style="italic" fill="#800080">SMAD6</text>
<text x="232" y="1270.4">3</text>
<text x="319.7" y="1270.4">38.7</text>
<text x="573.2" y="1270.4">0.013</text>
<text x="112.8" y="1306.2" font-style="italic" fill="#800080">G3BP1</text>
<text x="232" y="1306.2">4</text>
<text x="319.7" y="1306.2">18.7</text>
<text x="573.2" y="1306.2">0.013</text>
<rect x="101.6" y="1316.8" width="610.8" height="35" fill="#e5e5e5"/>
<text x="112.8" y="1342" font-style="italic" fill="#800080">NARS1</text>
<text x="232" y="1342">4</text>
<text x="319.7" y="1342">16.1</text>
<text x="439.6" y="1346.5" font-size="33" text-anchor="middle" font-family="DejaVu Sans">✔</text>
<text x="573.2" y="1342">0.022</text>
<text x="112.8" y="1377.8" font-style="italic" fill="#800080">SKI</text>
<text x="232" y="1377.8">3</text>
<text x="319.7" y="1377.8">23.1</text>
<text x="439.6" y="1382.3" font-size="33" text-anchor="middle" font-family="DejaVu Sans">✔</text>
<text x="535.3" y="1382.3" font-size="33" text-anchor="middle" font-family="DejaVu Sans">✔</text>
<text x="573.2" y="1377.8">0.050</text>
<rect x="101.6" y="1388.4" width="610.8" height="35" fill="#e5e5e5"/>
<text x="112.8" y="1413.6" font-style="italic" fill="#800080">SALL3</text>
<text x="232" y="1413.6">3</text>
<text x="319.7" y="1413.6">22.5</text>
<text x="573.2" y="1413.6">0.054</text>
<text x="112.8" y="1449.4" font-style="italic" fill="#800080">TNPO3</text>
<text x="232" y="1449.4">4</text>
<text x="319.7" y="1449.4">12.0</text>
<text x="573.2" y="1449.4">0.058</text>
<rect x="101.6" y="1460" width="610.8" height="35" fill="#e5e5e5"/>
<text x="112.8" y="1485.2" font-style="italic" fill="#800080">BCAS3</text>
<text x="232" y="1485.2">4</text>
<text x="319.7" y="1485.2">10.7</text>
<text x="573.2" y="1485.2">0.085</text>
<text x="0" y="0" letter-spacing="0.5" transform="translate(244.5 928.8) rotate(-45)">No. of mutations</text>
<text x="0" y="0" letter-spacing="0.5" transform="translate(270.3 948.6) rotate(-45)">observed</text>
<text x="0" y="0" letter-spacing="0.5" transform="translate(345 948.6) rotate(-45)">o/e ratio</text>
<text x="0" y="0" letter-spacing="0.5" transform="translate(433.9 927.8) rotate(-45)">LoF dominant</text>
<text x="0" y="0" letter-spacing="0.5" transform="translate(454.7 948.6) rotate(-45)">NDD phenotype</text>
<text x="0" y="0" letter-spacing="0.5" transform="translate(542.7 948.6) rotate(-45)">Cancer driver</text>
<text x="0" y="0" letter-spacing="0.5" transform="translate(626 948.6) rotate(-45)">FDR</text>
<text x="868.3" y="672" font-size="33" font-weight="bold" stroke="#000" stroke-width="0.7">e</text>
<path d="M1020 667.8 V1265.5 H1657.7" fill="none" stroke="#222" stroke-width="1.4"/>
<line x1="1010.3" y1="1063.7" x2="1020" y2="1063.7" stroke="#222" stroke-width="1.4"/>
<line x1="1010.3" y1="809.7" x2="1020" y2="809.7" stroke="#222" stroke-width="1.4"/>
<line x1="1013.6" y1="1241.2" x2="1020" y2="1241.2" stroke="#222" stroke-width="1.2"/>
<line x1="1013.6" y1="1196.5" x2="1020" y2="1196.5" stroke="#222" stroke-width="1.2"/>
<line x1="1013.6" y1="1164.8" x2="1020" y2="1164.8" stroke="#222" stroke-width="1.2"/>
<line x1="1013.6" y1="1140.2" x2="1020" y2="1140.2" stroke="#222" stroke-width="1.2"/>
<line x1="1013.6" y1="1120" x2="1020" y2="1120" stroke="#222" stroke-width="1.2"/>
<line x1="1013.6" y1="1103" x2="1020" y2="1103" stroke="#222" stroke-width="1.2"/>
<line x1="1013.6" y1="1088.3" x2="1020" y2="1088.3" stroke="#222" stroke-width="1.2"/>
<line x1="1013.6" y1="1075.3" x2="1020" y2="1075.3" stroke="#222" stroke-width="1.2"/>
<line x1="1013.6" y1="987.2" x2="1020" y2="987.2" stroke="#222" stroke-width="1.2"/>
<line x1="1013.6" y1="942.5" x2="1020" y2="942.5" stroke="#222" stroke-width="1.2"/>
<line x1="1013.6" y1="910.8" x2="1020" y2="910.8" stroke="#222" stroke-width="1.2"/>
<line x1="1013.6" y1="886.2" x2="1020" y2="886.2" stroke="#222" stroke-width="1.2"/>
<line x1="1013.6" y1="866" x2="1020" y2="866" stroke="#222" stroke-width="1.2"/>
<line x1="1013.6" y1="849" x2="1020" y2="849" stroke="#222" stroke-width="1.2"/>
<line x1="1013.6" y1="834.3" x2="1020" y2="834.3" stroke="#222" stroke-width="1.2"/>
<line x1="1013.6" y1="821.3" x2="1020" y2="821.3" stroke="#222" stroke-width="1.2"/>
<line x1="1013.6" y1="733.2" x2="1020" y2="733.2" stroke="#222" stroke-width="1.2"/>
<line x1="1013.6" y1="688.5" x2="1020" y2="688.5" stroke="#222" stroke-width="1.2"/>
<line x1="1121.1" y1="1265.5" x2="1121.1" y2="1275.2" stroke="#222" stroke-width="1.4"/>
<line x1="1289.3" y1="1265.5" x2="1289.3" y2="1275.2" stroke="#222" stroke-width="1.4"/>
<line x1="1625.7" y1="1265.5" x2="1625.7" y2="1275.2" stroke="#222" stroke-width="1.4"/>
<line x1="1033.2" y1="1265.5" x2="1033.2" y2="1271.8" stroke="#222" stroke-width="1.2"/>
<line x1="1054.2" y1="1265.5" x2="1054.2" y2="1271.8" stroke="#222" stroke-width="1.2"/>
<line x1="1070.5" y1="1265.5" x2="1070.5" y2="1271.8" stroke="#222" stroke-width="1.2"/>
<line x1="1083.8" y1="1265.5" x2="1083.8" y2="1271.8" stroke="#222" stroke-width="1.2"/>
<line x1="1095" y1="1265.5" x2="1095" y2="1271.8" stroke="#222" stroke-width="1.2"/>
<line x1="1104.8" y1="1265.5" x2="1104.8" y2="1271.8" stroke="#222" stroke-width="1.2"/>
<line x1="1113.4" y1="1265.5" x2="1113.4" y2="1271.8" stroke="#222" stroke-width="1.2"/>
<line x1="1171.7" y1="1265.5" x2="1171.7" y2="1271.8" stroke="#222" stroke-width="1.2"/>
<line x1="1201.4" y1="1265.5" x2="1201.4" y2="1271.8" stroke="#222" stroke-width="1.2"/>
<line x1="1222.4" y1="1265.5" x2="1222.4" y2="1271.8" stroke="#222" stroke-width="1.2"/>
<line x1="1238.7" y1="1265.5" x2="1238.7" y2="1271.8" stroke="#222" stroke-width="1.2"/>
<line x1="1252" y1="1265.5" x2="1252" y2="1271.8" stroke="#222" stroke-width="1.2"/>
<line x1="1263.2" y1="1265.5" x2="1263.2" y2="1271.8" stroke="#222" stroke-width="1.2"/>
<line x1="1273" y1="1265.5" x2="1273" y2="1271.8" stroke="#222" stroke-width="1.2"/>
<line x1="1281.6" y1="1265.5" x2="1281.6" y2="1271.8" stroke="#222" stroke-width="1.2"/>
<line x1="1339.9" y1="1265.5" x2="1339.9" y2="1271.8" stroke="#222" stroke-width="1.2"/>
<line x1="1369.6" y1="1265.5" x2="1369.6" y2="1271.8" stroke="#222" stroke-width="1.2"/>
<line x1="1390.6" y1="1265.5" x2="1390.6" y2="1271.8" stroke="#222" stroke-width="1.2"/>
<line x1="1406.9" y1="1265.5" x2="1406.9" y2="1271.8" stroke="#222" stroke-width="1.2"/>
<line x1="1420.2" y1="1265.5" x2="1420.2" y2="1271.8" stroke="#222" stroke-width="1.2"/>
<line x1="1431.4" y1="1265.5" x2="1431.4" y2="1271.8" stroke="#222" stroke-width="1.2"/>
<line x1="1441.2" y1="1265.5" x2="1441.2" y2="1271.8" stroke="#222" stroke-width="1.2"/>
<line x1="1449.8" y1="1265.5" x2="1449.8" y2="1271.8" stroke="#222" stroke-width="1.2"/>
<line x1="1537.8" y1="1265.5" x2="1537.8" y2="1271.8" stroke="#222" stroke-width="1.2"/>
<line x1="1558.8" y1="1265.5" x2="1558.8" y2="1271.8" stroke="#222" stroke-width="1.2"/>
<line x1="1575.1" y1="1265.5" x2="1575.1" y2="1271.8" stroke="#222" stroke-width="1.2"/>
<line x1="1588.4" y1="1265.5" x2="1588.4" y2="1271.8" stroke="#222" stroke-width="1.2"/>
<line x1="1599.6" y1="1265.5" x2="1599.6" y2="1271.8" stroke="#222" stroke-width="1.2"/>
<line x1="1609.4" y1="1265.5" x2="1609.4" y2="1271.8" stroke="#222" stroke-width="1.2"/>
<line x1="1618" y1="1265.5" x2="1618" y2="1271.8" stroke="#222" stroke-width="1.2"/>
<text x="989.4" y="818.1" text-anchor="end">10</text><text x="990.3" y="806" font-size="16">2</text>
<text x="989.4" y="1073.8" text-anchor="end">10</text><text x="990.3" y="1061.7" font-size="16">1</text>
<text x="1102.3" y="1309.4">10<tspan font-size="16" dy="-12">−2</tspan></text>
<text x="1270.5" y="1309.4">10<tspan font-size="16" dy="-12">−1</tspan></text>
<text x="1440.2" y="1309.4">10<tspan font-size="16" dy="-12">0</tspan></text>
<text x="1608.5" y="1309.4">10<tspan font-size="16" dy="-12">1</tspan></text>
<text x="0" y="0" text-anchor="middle" transform="translate(888.9 966.9) rotate(-90)">Normalized mean of SFS</text>
<g transform="translate(939.4 907.5) rotate(-90)"><text x="0" y="0" text-anchor="end">CES effect ×</text><text x="13.5" y="-13.5" text-anchor="middle">1</text><line x1="6" y1="-7.3" x2="20" y2="-7.3" stroke="#000" stroke-width="1.4"/><text x="12.5" y="11.8" text-anchor="middle">s</text></g>
<text x="0" y="0" font-family="DejaVu Sans" font-weight="200" font-size="62" letter-spacing="0" stroke="#000" stroke-width="0.9" transform="translate(1276 1379) scale(0.85 1)">(</text>
<text x="0" y="0" font-family="DejaVu Sans" font-weight="200" font-size="62" letter-spacing="0" stroke="#000" stroke-width="0.9" transform="translate(1335.5 1379) scale(0.85 1)">)</text>
<text x="1315.5" y="1345.1" text-anchor="middle" font-style="italic">n</text>
<line x1="1295.4" y1="1352.5" x2="1336.4" y2="1352.5" stroke="#000" stroke-width="1.5"/>
<text x="1294.4" y="1377.5">4<tspan font-style="italic">N</tspan><tspan font-size="17" dy="7.7">e</tspan></text>
<text x="1365.5" y="1362.5" text-anchor="middle">×</text>
<text x="1389.4" y="1347.5" font-size="23" text-anchor="middle">1</text>
<line x1="1383" y1="1354.2" x2="1396" y2="1354.2" stroke="#000" stroke-width="1.4"/>
<text x="1389.4" y="1372.9" font-size="23" text-anchor="middle" font-style="italic">s</text>
<path d="M1286.5 1395.5 Q1287 1403.5 1296 1403.5 H1306 Q1313.5 1403.5 1315 1410 Q1316.5 1403.5 1324 1403.5 H1334 Q1343 1403.5 1343.5 1395.5" fill="none" stroke="#000" stroke-width="4"/>
<text x="1315.2" y="1440.3" text-anchor="middle">Const</text>
<text x="1339.3" y="1478.7" text-anchor="middle">Normalized variance of SFS</text>
<path d="M1213.7 973h11.6M1219.5 967.2v11.6M1254 1011.6h11.6M1259.8 1005.8v11.6M1250.6 1027.5h11.6M1256.4 1021.7v11.6M1286.9 1001.4h11.6M1292.7 995.6v11.6M1306.9 986.6h11.6M1312.7 980.8v11.6M1301 1021.8h11.6M1306.8 1016v11.6M1311.9 1009.3h11.6M1317.7 1003.5v11.6M1327.8 1005.9h11.6M1333.6 1000.1v11.6M1318.7 1042.3h11.6M1324.5 1036.5v11.6M1307.4 1057h11.6M1313.2 1051.2v11.6M1326.7 1057h11.6M1332.5 1051.2v11.6M1168.7 1045h11.6M1174.5 1039.2v11.6M1189.2 1061.6h11.6M1195 1055.8v11.6M1205.1 1056.4h11.6M1210.9 1050.6v11.6M1112.4 1079.1h11.6M1118.2 1073.3v11.6M1254.7 1072.5h11.6M1260.5 1066.7v11.6M1282.4 1071.8h11.6M1288.2 1066v11.6M1277.8 1078.6h11.6M1283.6 1072.8v11.6M1297.2 1078h11.6M1303 1072.2v11.6M1317.6 1078h11.6M1323.4 1072.2v11.6M1285.8 1090h11.6M1291.6 1084.2v11.6M1216.5 1093.4h11.6M1222.3 1087.6v11.6M1227.8 1094.5h11.6M1233.6 1088.7v11.6M1269.9 1099.1h11.6M1275.7 1093.3v11.6M1316.5 1103.6h11.6M1322.3 1097.8v11.6M1323.2 1103.6h11.6M1329 1097.8v11.6M1196 1121.8h11.6M1201.8 1116v11.6M1193.7 1128.2h11.6M1199.5 1122.4v11.6M1046 1142.7h11.6M1051.8 1136.9v11.6M1223.3 1152.5h11.6M1229.1 1146.7v11.6M1227.4 1164.5h11.6M1233.2 1158.7v11.6M1118.7 1172.3h11.6M1124.5 1166.5v11.6M1133.5 1168.4h11.6M1139.3 1162.6v11.6M1222.2 1192.7h11.6M1228 1186.9v11.6M1216.5 1235.5h11.6M1222.3 1229.7v11.6M1332.9 925.6h11.6M1338.7 919.8v11.6M1634.9 1004.8h11.6M1640.7 999v11.6M1614.4 1007.7h11.6M1620.2 1001.9v11.6M1599.7 1007.7h11.6M1605.5 1001.9v11.6M1626.9 1024.1h11.6M1632.7 1018.3v11.6M1586 1035.5h11.6M1591.8 1029.7v11.6M1594 1051.8h11.6M1599.8 1046v11.6M1576.5 1063.9h11.6M1582.3 1058.1v11.6M1596.2 1083.2h11.6M1602 1077.4v11.6M1604.2 1091.1h11.6M1610 1085.3v11.6M1550.8 1091.8h11.6M1556.6 1086v11.6M1579.9 1111.6h11.6M1585.7 1105.8v11.6M1633.3 1121.8h11.6M1639.1 1116v11.6M1612.2 1144.5h11.6M1618 1138.7v11.6M1532.6 1138.4h11.6M1538.4 1132.6v11.6M1533.7 1073h11.6M1539.5 1067.2v11.6M1539.4 1073h11.6M1545.2 1067.2v11.6M1545.1 1044.5h11.6M1550.9 1038.7v11.6M1509.9 1041.1h11.6M1515.7 1035.3v11.6M1496.2 1034.3h11.6M1502 1028.5v11.6M1508.7 1082h11.6M1514.5 1076.2v11.6M1495.1 1116.1h11.6M1500.9 1110.3v11.6M1504.2 1120.7h11.6M1510 1114.9v11.6M1578.1 1001.4h11.6M1583.9 995.6v11.6M1565.6 1003.6h11.6M1571.4 997.8v11.6M1562.2 1008.2h11.6M1568 1002.4v11.6M1622.7 747.8h11.6M1628.5 742v11.6M1637.5 750.9h11.6M1643.3 745.1v11.6M1633.1 789.4h11.6M1638.9 783.6v11.6M1588.1 796.5h11.6M1593.9 790.7v11.6M1600.2 802.7h11.6M1606 796.9v11.6M1610 801.9h11.6M1615.8 796.1v11.6M1613.5 798.3h11.6M1619.3 792.5v11.6M1617.1 796.5h11.6M1622.9 790.7v11.6M1626 792.9h11.6M1631.8 787.1v11.6M1628.7 808.1h11.6M1634.5 802.3v11.6M1618.9 809.9h11.6M1624.7 804.1v11.6M1593 818.8h11.6M1598.8 813v11.6M1609.1 822.3h11.6M1614.9 816.5v11.6M1610 827.7h11.6M1615.8 821.9v11.6M1620.6 817h11.6M1626.4 811.2v11.6M1636.7 817.4h11.6M1642.5 811.6v11.6M1634.4 823.2h11.6M1640.2 817.4v11.6M1572.6 825.9h11.6M1578.4 820.1v11.6M1572.1 830.3h11.6M1577.9 824.5v11.6M1587.7 835.7h11.6M1593.5 829.9v11.6M1600.2 838.8h11.6M1606 833v11.6M1592.2 842.8h11.6M1598 837v11.6M1594.8 845.5h11.6M1600.6 839.7v11.6M1637.6 837.5h11.6M1643.4 831.7v11.6M1548.1 836.1h11.6M1553.9 830.3v11.6M1566.8 840.6h11.6M1572.6 834.8v11.6M1575.2 846.8h11.6M1581 841v11.6M1563.7 845h11.6M1569.5 839.2v11.6M1561.9 849h11.6M1567.7 843.2v11.6M1624.2 845.9h11.6M1630 840.1v11.6M1618 849h11.6M1623.8 843.2v11.6M1634.9 852.6h11.6M1640.7 846.8v11.6M1607.3 850.8h11.6M1613.1 845v11.6M1597.5 857.1h11.6M1603.3 851.3v11.6M1512 856.2h11.6M1517.8 850.4v11.6M1524.5 851.7h11.6M1530.3 845.9v11.6M1552.1 854.4h11.6M1557.9 848.6v11.6M1558.3 857.1h11.6M1564.1 851.3v11.6M1545 864.2h11.6M1550.8 858.4v11.6M1562.8 863.3h11.6M1568.6 857.5v11.6M1547.6 870.4h11.6M1553.4 864.6v11.6M1582.4 866.9h11.6M1588.2 861.1v11.6M1579.7 872.2h11.6M1585.5 866.4v11.6M1605.5 864.2h11.6M1611.3 858.4v11.6M1603.7 870.4h11.6M1609.5 864.6v11.6M1615.3 869.5h11.6M1621.1 863.7v11.6M1618.9 874.9h11.6M1624.7 869.1v11.6M1637.6 872.2h11.6M1643.4 866.4v11.6M1633.1 875.8h11.6M1638.9 870v11.6M1510.2 877.5h11.6M1516 871.7v11.6M1526.3 877.5h11.6M1532.1 871.7v11.6M1560.1 875.8h11.6M1565.9 870v11.6M1534.3 869.5h11.6M1540.1 863.7v11.6M1505.8 882.7h11.6M1511.6 876.9v11.6M1520 888h11.6M1525.8 882.2v11.6M1547.6 884.5h11.6M1553.4 878.7v11.6M1558.3 883.6h11.6M1564.1 877.8v11.6M1563.7 882.7h11.6M1569.5 876.9v11.6M1578.8 886.2h11.6M1584.6 880.4v11.6M1528 896h11.6M1533.8 890.2v11.6M1544.1 896h11.6M1549.9 890.2v11.6M1552.1 897.8h11.6M1557.9 892v11.6M1564.5 894.2h11.6M1570.3 888.4v11.6M1565.4 899.6h11.6M1571.2 893.8v11.6M1556.5 904h11.6M1562.3 898.2v11.6M1549.4 902.3h11.6M1555.2 896.5v11.6M1503.1 902.3h11.6M1508.9 896.5v11.6M1507.6 905.8h11.6M1513.4 900v11.6M1498.7 906.7h11.6M1504.5 900.9v11.6M1508.4 911.2h11.6M1514.2 905.4v11.6M1522.7 911.2h11.6M1528.5 905.4v11.6M1499.5 912.9h11.6M1505.3 907.1v11.6M1547.6 912.1h11.6M1553.4 906.3v11.6M1551.2 917.4h11.6M1557 911.6v11.6M1546.7 924.5h11.6M1552.5 918.7v11.6M1503.1 925.4h11.6M1508.9 919.6v11.6M1509.3 925.4h11.6M1515.1 919.6v11.6M1521.8 928.1h11.6M1527.6 922.3v11.6M1497.8 929.9h11.6M1503.6 924.1v11.6M1499.5 935.2h11.6M1505.3 929.4v11.6M1517.4 937h11.6M1523.2 931.2v11.6M1520.9 933.4h11.6M1526.7 927.6v11.6M1554.8 929.9h11.6M1560.6 924.1v11.6M1551.2 939.7h11.6M1557 933.9v11.6M1502.2 944.1h11.6M1508 938.3v11.6M1504 953h11.6M1509.8 947.2v11.6M1498.7 958.4h11.6M1504.5 952.6v11.6M1509.3 957.5h11.6M1515.1 951.7v11.6M1519.1 958.4h11.6M1524.9 952.6v11.6M1513.8 960.1h11.6M1519.6 954.3v11.6M1533.4 956.6h11.6M1539.2 950.8v11.6M1540.5 953h11.6M1546.3 947.2v11.6M1536.9 962.8h11.6M1542.7 957v11.6M1500.4 965.5h11.6M1506.2 959.7v11.6M1506.7 973.5h11.6M1512.5 967.7v11.6M1502.2 978h11.6M1508 972.2v11.6M1498.7 988.6h11.6M1504.5 982.8v11.6M1532.5 973.5h11.6M1538.3 967.7v11.6M1528.9 989.5h11.6M1534.7 983.7v11.6M1545.8 984.2h11.6M1551.6 978.4v11.6M1549.4 986.9h11.6M1555.2 981.1v11.6M1548.5 974.4h11.6M1554.3 968.6v11.6M1555.6 967.7h11.6M1561.4 961.9v11.6M1561 992.2h11.6M1566.8 986.4v11.6M1543.2 995.8h11.6M1549 990v11.6M1576.1 992.2h11.6M1581.9 986.4v11.6M1550.3 994.9h11.6M1556.1 989.1v11.6M1594.8 888.9h11.6M1600.6 883.1v11.6M1604.6 891.1h11.6M1610.4 885.3v11.6M1628.7 888.5h11.6M1634.5 882.7v11.6M1617.1 882.2h11.6M1622.9 876.4v11.6M1587.7 896h11.6M1593.5 890.2v11.6M1596.6 899.6h11.6M1602.4 893.8v11.6M1590.4 904.9h11.6M1596.2 899.1v11.6M1585.9 910.3h11.6M1591.7 904.5v11.6M1598.4 917.4h11.6M1604.2 911.6v11.6M1567.2 923.6h11.6M1573 917.8v11.6M1568.1 915.6h11.6M1573.9 909.8v11.6M1587.7 923.6h11.6M1593.5 917.8v11.6M1603.7 926.7h11.6M1609.5 920.9v11.6M1617.5 930.3h11.6M1623.3 924.5v11.6M1577 932.5h11.6M1582.8 926.7v11.6M1586.8 934.3h11.6M1592.6 928.5v11.6M1578.8 937.9h11.6M1584.6 932.1v11.6M1583.2 937h11.6M1589 931.2v11.6M1629.6 937.9h11.6M1635.4 932.1v11.6M1554.8 931.6h11.6M1560.6 925.8v11.6M1609.1 947.7h11.6M1614.9 941.9v11.6M1601.1 951.2h11.6M1606.9 945.4v11.6M1626.9 951.2h11.6M1632.7 945.4v11.6M1578.8 961.9h11.6M1584.6 956.1v11.6M1591.3 970.4h11.6M1597.1 964.6v11.6M1608.2 969h11.6M1614 963.2v11.6M1628.7 965.5h11.6M1634.5 959.7v11.6M1627.8 972.6h11.6M1633.6 966.8v11.6M1585 973.5h11.6M1590.8 967.7v11.6M1584.1 980.6h11.6M1589.9 974.8v11.6M1579.7 984.2h11.6M1585.5 978.4v11.6M1485.6 890.7h11.6M1491.4 884.9v11.6M1448.2 899.6h11.6M1454 893.8v11.6M1388.5 915.2h11.6M1394.3 909.4v11.6M1422.4 921.9h11.6M1428.2 916.1v11.6M1345.8 927.2h11.6M1351.6 921.4v11.6M1336 925h11.6M1341.8 919.2v11.6M1429.5 930.8h11.6M1435.3 925v11.6M1438.4 934.3h11.6M1444.2 928.5v11.6M1455.3 935.2h11.6M1461.1 929.4v11.6M1462.4 931.6h11.6M1468.2 925.8v11.6M1474 937h11.6M1479.8 931.2v11.6M1485.6 931.6h11.6M1491.4 925.8v11.6M1492.7 928.1h11.6M1498.5 922.3v11.6M1401.9 942.3h11.6M1407.7 936.5v11.6M1485.6 942.3h11.6M1491.4 936.5v11.6M1419.7 953.9h11.6M1425.5 948.1v11.6M1439.3 956.6h11.6M1445.1 950.8v11.6M1451.7 953.9h11.6M1457.5 948.1v11.6M1462.4 953.9h11.6M1468.2 948.1v11.6M1466 958.4h11.6M1471.8 952.6v11.6M1483.8 955.7h11.6M1489.6 949.9v11.6M1490.9 958.4h11.6M1496.7 952.6v11.6M1376.1 961h11.6M1381.9 955.2v11.6M1434.8 965.5h11.6M1440.6 959.7v11.6M1441.1 963.7h11.6M1446.9 957.9v11.6M1451.7 965.5h11.6M1457.5 959.7v11.6M1463.3 965.5h11.6M1469.1 959.7v11.6M1485.6 965.5h11.6M1491.4 959.7v11.6M1437.5 971.7h11.6M1443.3 965.9v11.6M1447.3 969h11.6M1453.1 963.2v11.6M1458.9 974.4h11.6M1464.7 968.6v11.6M1410.8 969.9h11.6M1416.6 964.1v11.6M1490 969h11.6M1495.8 963.2v11.6M1369.4 975.7h11.6M1375.2 969.9v11.6M1389.9 976.6h11.6M1395.7 970.8v11.6M1414.3 978h11.6M1420.1 972.2v11.6M1422.4 980.6h11.6M1428.2 974.8v11.6M1442.8 984.2h11.6M1448.6 978.4v11.6M1450.9 978h11.6M1456.7 972.2v11.6M1453.5 984.2h11.6M1459.3 978.4v11.6M1474 983.3h11.6M1479.8 977.5v11.6M1490 986h11.6M1495.8 980.2v11.6M1338.7 988.6h11.6M1344.5 982.8v11.6M1396.5 996.7h11.6M1402.3 990.9v11.6M1411.7 994.9h11.6M1417.5 989.1v11.6M1425.9 991.3h11.6M1431.7 985.5v11.6M1426.8 996.7h11.6M1432.6 990.9v11.6M1445.5 996.7h11.6M1451.3 990.9v11.6M1460.6 994h11.6M1466.4 988.2v11.6M1467.8 995.8h11.6M1473.6 990v11.6M1343.8 1012.9h11.6M1349.6 1007.1v11.6M1366.3 1012.5h11.6M1372.1 1006.7v11.6M1373.4 1016.9h11.6M1379.2 1011.1v11.6M1381.4 1013.8h11.6M1387.2 1008v11.6M1395.6 1004h11.6M1401.4 998.2v11.6M1408.1 1003.6h11.6M1413.9 997.8v11.6M1425 1001.8h11.6M1430.8 996v11.6M1437.5 1003.6h11.6M1443.3 997.8v11.6M1465.1 1002.7h11.6M1470.9 996.9v11.6M1487.4 1004.5h11.6M1493.2 998.7v11.6M1479.3 1013.4h11.6M1485.1 1007.6v11.6M1409.9 1008.9h11.6M1415.7 1003.1v11.6M1407.2 1016.9h11.6M1413 1011.1v11.6M1419.7 1021.4h11.6M1425.5 1015.6v11.6M1424.1 1017.8h11.6M1429.9 1012v11.6M1432.2 1021.4h11.6M1438 1015.6v11.6M1441.1 1016.9h11.6M1446.9 1011.1v11.6M1451.7 1013.4h11.6M1457.5 1007.6v11.6M1455.3 1017.8h11.6M1461.1 1012v11.6M1467.8 1010.7h11.6M1473.6 1004.9v11.6M1470.4 1020.5h11.6M1476.2 1014.7v11.6M1457.1 1021.4h11.6M1462.9 1015.6v11.6M1398.3 1022.3h11.6M1404.1 1016.5v11.6M1449.1 1027.6h11.6M1454.9 1021.8v11.6M1436.6 1030.3h11.6M1442.4 1024.5v11.6M1439.3 1033.8h11.6M1445.1 1028v11.6M1427.7 1037.4h11.6M1433.5 1031.6v11.6M1449.1 1037.4h11.6M1454.9 1031.6v11.6M1369.8 1028.5h11.6M1375.6 1022.7v11.6M1366.3 1033.8h11.6M1372.1 1028v11.6M1360.9 1040.1h11.6M1366.7 1034.3v11.6M1345.8 1039.2h11.6M1351.6 1033.4v11.6M1348.4 1046.3h11.6M1354.2 1040.5v11.6M1351.1 1050.8h11.6M1356.9 1045v11.6M1341.3 1055.2h11.6M1347.1 1049.4v11.6M1382.3 1039.2h11.6M1388.1 1033.4v11.6M1378.7 1042.7h11.6M1384.5 1036.9v11.6M1408.1 1036.5h11.6M1413.9 1030.7v11.6M1412.6 1045.4h11.6M1418.4 1039.6v11.6M1407.2 1049.9h11.6M1413 1044.1v11.6M1419.7 1049h11.6M1425.5 1043.2v11.6M1430.4 1049h11.6M1436.2 1043.2v11.6M1431.3 1053.4h11.6M1437.1 1047.6v11.6M1443.7 1050.8h11.6M1449.5 1045v11.6M1451.7 1050.8h11.6M1457.5 1045v11.6M1461.5 1053.4h11.6M1467.3 1047.6v11.6M1471.3 1046.3h11.6M1477.1 1040.5v11.6M1376.1 1051.6h11.6M1381.9 1045.8v11.6M1390.3 1056.1h11.6M1396.1 1050.3v11.6M1396.5 1047.2h11.6M1402.3 1041.4v11.6M1395.6 1052.5h11.6M1401.4 1046.7v11.6M1418.8 1063.2h11.6M1424.6 1057.4v11.6M1434.8 1062.3h11.6M1440.6 1056.5v11.6M1437.5 1065.9h11.6M1443.3 1060.1v11.6M1377.8 1065h11.6M1383.6 1059.2v11.6M1378.7 1071.2h11.6M1384.5 1065.4v11.6M1391.2 1072.1h11.6M1397 1066.3v11.6M1371.6 1074.8h11.6M1377.4 1069v11.6M1368 1080.1h11.6M1373.8 1074.3v11.6M1392.1 1078.4h11.6M1397.9 1072.6v11.6M1398.3 1082.8h11.6M1404.1 1077v11.6M1406.3 1069.5h11.6M1412.1 1063.7v11.6M1407.2 1075.7h11.6M1413 1069.9v11.6M1447.3 1073h11.6M1453.1 1067.2v11.6M1461.5 1078.4h11.6M1467.3 1072.6v11.6M1435.7 1081.5h11.6M1441.5 1075.7v11.6M1385 1089.9h11.6M1390.8 1084.1v11.6M1357.4 1089h11.6M1363.2 1083.2v11.6M1356.5 1094.4h11.6M1362.3 1088.6v11.6M1371.6 1095.3h11.6M1377.4 1089.5v11.6M1339.5 1088.2h11.6M1345.3 1082.4v11.6M1415.2 1088.2h11.6M1421 1082.4v11.6M1458.9 1092.6h11.6M1464.7 1086.8v11.6M1421.5 1098h11.6M1427.3 1092.2v11.6M1426.8 1100.6h11.6M1432.6 1094.8v11.6M1408.1 1103.3h11.6M1413.9 1097.5v11.6M1415.2 1109.5h11.6M1421 1103.7v11.6M1386.7 1107.7h11.6M1392.5 1101.9v11.6M1352 1106h11.6M1357.8 1100.2v11.6M1360 1107.7h11.6M1365.8 1101.9v11.6M1346.7 1109.5h11.6M1352.5 1103.7v11.6M1375.2 1117.5h11.6M1381 1111.7v11.6M1389.4 1113.1h11.6M1395.2 1107.3v11.6M1434.8 1110.4h11.6M1440.6 1104.6v11.6M1467.8 1104.2h11.6M1473.6 1098.4v11.6M1486.5 1115.8h11.6M1492.3 1110v11.6M1491.8 1035.6h11.6M1497.6 1029.8v11.6M1305.6 1112.9h11.6M1311.4 1107.1v11.6M1264.9 1123.4h11.6M1270.7 1117.6v11.6M1287.6 1132.7h11.6M1293.4 1126.9v11.6M1286.3 1142.1h11.6M1292.1 1136.3v11.6M1294.3 1144.1h11.6M1300.1 1138.3v11.6M1325 1146.7h11.6M1330.8 1140.9v11.6M1319.6 1152.7h11.6M1325.4 1146.9v11.6M1326.3 1162.1h11.6M1332.1 1156.3v11.6M1318.3 1164.1h11.6M1324.1 1158.3v11.6M1333 1164.8h11.6M1338.8 1159v11.6M1283.6 1174.8h11.6M1289.4 1169v11.6M1275.6 1184.8h11.6M1281.4 1179v11.6M1326.3 1192.8h11.6M1332.1 1187v11.6M1288.3 1202.8h11.6M1294.1 1197v11.6M1264.2 1206.2h11.6M1270 1200.4v11.6M1282.9 1212.8h11.6M1288.7 1207v11.6M1282.2 1216.8h11.6M1288 1211v11.6M1374.4 1118h11.6M1380.2 1112.2v11.6M1389.1 1112.7h11.6M1394.9 1106.9v11.6M1395.8 1118.7h11.6M1401.6 1112.9v11.6M1414.5 1112h11.6M1420.3 1106.2v11.6M1385.8 1126.7h11.6M1391.6 1120.9v11.6M1393.1 1134h11.6M1398.9 1128.2v11.6M1389.1 1140.7h11.6M1394.9 1134.9v11.6M1367.1 1140.7h11.6M1372.9 1134.9v11.6M1350.4 1156.1h11.6M1356.2 1150.3v11.6M1357 1155.4h11.6M1362.8 1149.6v11.6M1359.7 1168.8h11.6M1365.5 1163v11.6M1365.7 1170.1h11.6M1371.5 1164.3v11.6M1367.1 1186.1h11.6M1372.9 1180.3v11.6M1383.7 1187.5h11.6M1389.5 1181.7v11.6M1347.7 1199.5h11.6M1353.5 1193.7v11.6M1349 1212.2h11.6M1354.8 1206.4v11.6M1370.4 1214.2h11.6M1376.2 1208.4v11.6M1402.4 1225.5h11.6M1408.2 1219.7v11.6M1417.1 1230.2h11.6M1422.9 1224.4v11.6M1422.5 1232.2h11.6M1428.3 1226.4v11.6M1430.5 1195.5h11.6M1436.3 1189.7v11.6M1442.5 1198.1h11.6M1448.3 1192.3v11.6M1432.5 1139.4h11.6M1438.3 1133.6v11.6M1429.8 1150.1h11.6M1435.6 1144.3v11.6M1440.5 1150.7h11.6M1446.3 1144.9v11.6M1443.8 1128.7h11.6M1449.6 1122.9v11.6M1454.5 1124.7h11.6M1460.3 1118.9v11.6M1458.5 1140.7h11.6M1464.3 1134.9v11.6M1464.6 1155.4h11.6M1470.4 1149.6v11.6M1479.9 1151.4h11.6M1485.7 1145.6v11.6M1485.3 1117.3h11.6M1491.1 1111.5v11.6M1491.9 1131.4h11.6M1497.7 1125.6v11.6M1607.4 802.3h11.6M1613.2 796.5v11.6M1612.2 799.3h11.6M1618 793.5v11.6M1618.4 792.2h11.6M1624.2 786.4v11.6M1614 813.3h11.6M1619.8 807.5v11.6M1597.8 836.1h11.6M1603.6 830.3v11.6M1599.8 845.2h11.6M1605.6 839.4v11.6M1570.2 840.4h11.6M1576 834.6v11.6M1565.1 841.5h11.6M1570.9 835.7v11.6M1563.2 852.7h11.6M1569 846.9v11.6M1607.5 853.2h11.6M1613.3 847.4v11.6M1599.2 852.7h11.6M1605 846.9v11.6M1554.7 855.3h11.6M1560.5 849.5v11.6M1556.3 852.4h11.6M1562.1 846.6v11.6M1566.5 863h11.6M1572.3 857.2v11.6M1549.8 874.2h11.6M1555.6 868.4v11.6M1607.6 868.4h11.6M1613.4 862.6v11.6M1614.2 872.5h11.6M1620 866.7v11.6M1559.5 880.2h11.6M1565.3 874.4v11.6M1551.4 880.5h11.6M1557.2 874.7v11.6M1554.7 880.8h11.6M1560.5 875v11.6M1548.8 895.4h11.6M1554.6 889.6v11.6M1553.4 895.8h11.6M1559.2 890v11.6M1564.6 893.1h11.6M1570.4 887.3v11.6M1555 904.9h11.6M1560.8 899.1v11.6M1550.2 906.3h11.6M1556 900.5v11.6M1504.9 906.6h11.6M1510.7 900.8v11.6M1511.2 910.7h11.6M1517 904.9v11.6M1500.4 903.3h11.6M1506.2 897.5v11.6M1512 915.8h11.6M1517.8 910v11.6M1503.5 913.6h11.6M1509.3 907.8v11.6M1549.7 909.2h11.6M1555.5 903.4v11.6M1554.5 918.1h11.6M1560.3 912.3v11.6M1544.5 920.1h11.6M1550.3 914.3v11.6M1506.6 930.3h11.6M1512.4 924.5v11.6M1505.2 928.4h11.6M1511 922.6v11.6M1496.9 926.4h11.6M1502.7 920.6v11.6M1497.4 937.9h11.6M1503.2 932.1v11.6M1558.5 925.3h11.6M1564.3 919.5v11.6M1503.3 939.5h11.6M1509.1 933.7v11.6M1506.2 951.3h11.6M1512 945.5v11.6M1502.5 963.2h11.6M1508.3 957.4v11.6M1509.4 962.5h11.6M1515.2 956.7v11.6M1511.9 955.9h11.6M1517.7 950.1v11.6M1501.4 960.8h11.6M1507.2 955v11.6M1499.2 977.1h11.6M1505 971.3v11.6M1546.9 980.8h11.6M1552.7 975v11.6M1544.8 990.6h11.6M1550.6 984.8v11.6M1548.4 999.5h11.6M1554.2 993.7v11.6M1591.7 894.8h11.6M1597.5 889v11.6M1596.2 899.8h11.6M1602 894v11.6M1591.8 905.9h11.6M1597.6 900.1v11.6M1586.5 911.5h11.6M1592.3 905.7v11.6M1602.8 917.5h11.6M1608.6 911.7v11.6M1566.5 925.8h11.6M1572.3 920v11.6M1585.1 921.6h11.6M1590.9 915.8v11.6M1581.8 932.7h11.6M1587.6 926.9v11.6M1587.3 929.4h11.6M1593.1 923.6v11.6M1582.4 937.8h11.6M1588.2 932v11.6M1550 932.8h11.6M1555.8 927v11.6M1586.3 969.1h11.6M1592.1 963.3v11.6M1585.4 980.3h11.6M1591.2 974.5v11.6M1487.4 930.1h11.6M1493.2 924.3v11.6M1494.8 930.5h11.6M1500.6 924.7v11.6M1434.5 952.2h11.6M1440.3 946.4v11.6M1453.5 958.5h11.6M1459.3 952.7v11.6M1481.3 955.3h11.6M1487.1 949.5v11.6M1491.8 956.6h11.6M1497.6 950.8v11.6M1433.4 963.6h11.6M1439.2 957.8v11.6M1439.8 964.7h11.6M1445.6 958.9v11.6M1449.7 964.3h11.6M1455.5 958.5v11.6M1466 960.8h11.6M1471.8 955v11.6M1486.3 967.9h11.6M1492.1 962.1v11.6M1435.6 968.9h11.6M1441.4 963.1v11.6M1450.3 966.4h11.6M1456.1 960.6v11.6M1455.8 973.8h11.6M1461.6 968v11.6M1492 965h11.6M1497.8 959.2v11.6M1441 982.5h11.6M1446.8 976.7v11.6M1454.2 977.4h11.6M1460 971.6v11.6M1457.1 980.9h11.6M1462.9 975.1v11.6M1410.1 996.4h11.6M1415.9 990.6v11.6M1429.7 990.8h11.6M1435.5 985v11.6M1465.1 992h11.6M1470.9 986.2v11.6M1408.4 1000.5h11.6M1414.2 994.7v11.6M1428.1 1005.2h11.6M1433.9 999.4v11.6M1434.3 1001.4h11.6M1440.1 995.6v11.6M1410.3 1018.3h11.6M1416.1 1012.5v11.6M1435.3 1019.9h11.6M1441.1 1014.1v11.6M1437.4 1014.8h11.6M1443.2 1009v11.6M1454.6 1011.1h11.6M1460.4 1005.3v11.6M1453.8 1017h11.6M1459.6 1011.2v11.6M1467 1009.8h11.6M1472.8 1004v11.6M1461.3 1018h11.6M1467.1 1012.2v11.6M1444.1 1032h11.6M1449.9 1026.2v11.6M1440.4 1035.2h11.6M1446.2 1029.4v11.6M1438.6 1038.3h11.6M1444.4 1032.5v11.6M1432 1034.6h11.6M1437.8 1028.8v11.6M1451.6 1040.8h11.6M1457.4 1035v11.6M1362.5 1040.3h11.6M1368.3 1034.5v11.6M1346.3 1044.7h11.6M1352.1 1038.9v11.6M1348.4 1046.5h11.6M1354.2 1040.7v11.6M1408.1 1047.8h11.6M1413.9 1042v11.6M1422.8 1044.5h11.6M1428.6 1038.7v11.6M1434.4 1050.9h11.6M1440.2 1045.1v11.6M1435.5 1057.4h11.6M1441.3 1051.6v11.6M1447.7 1051.6h11.6M1453.5 1045.8v11.6M1371.2 1054.1h11.6M1377 1048.3v11.6M1431.5 1060.3h11.6M1437.3 1054.5v11.6M1380.3 1071.4h11.6M1386.1 1065.6v11.6M1420.6 1102.4h11.6M1426.4 1096.6v11.6M1416.3 1107.9h11.6M1422.1 1102.1v11.6M1372.7 1121.1h11.6M1378.5 1115.3v11.6M1389.2 1115.9h11.6M1395 1110.1v11.6M1387.6 1109.7h11.6M1393.4 1103.9v11.6M1396.1 1121.9h11.6M1401.9 1116.1v11.6M1382.5 1129.6h11.6M1388.3 1123.8v11.6M1622.7 747.8h11.6M1628.5 742v11.6M1637.5 750.9h11.6M1643.3 745.1v11.6M1544.2 862h11.6M1550 856.2v11.6M1551.2 871h11.6M1557 865.2v11.6M1556.2 881h11.6M1562 875.2v11.6M1543.2 889h11.6M1549 883.2v11.6M1566.2 886h11.6M1572 880.2v11.6M1560.2 896h11.6M1566 890.2v11.6M1547.2 900h11.6M1553 894.2v11.6M1539.2 875h11.6M1545 869.2v11.6" stroke="#c8c8c8" stroke-width="2.4" fill="none"/>
<line x1="1342.3" y1="1249.1" x2="1668.3" y2="767.3" stroke="#808080" stroke-width="3"/>
<circle cx="1221.1" cy="1212.3" r="5.3" fill="none" stroke="#808080" stroke-width="3.9"/>
<circle cx="1244.3" cy="1168.4" r="5.3" fill="none" stroke="#808080" stroke-width="3.9"/>
<circle cx="1259.8" cy="1231.4" r="5.3" fill="none" stroke="#808080" stroke-width="3.9"/>
<circle cx="1303.6" cy="1128.2" r="5.3" fill="none" stroke="#808080" stroke-width="3.9"/>
<circle cx="1313.2" cy="1145.7" r="5.3" fill="none" stroke="#808080" stroke-width="3.9"/>
<circle cx="1314.3" cy="1197.5" r="5.3" fill="none" stroke="#808080" stroke-width="3.9"/>
<circle cx="1307" cy="1207" r="5.3" fill="none" stroke="#808080" stroke-width="3.9"/>
<circle cx="1335.9" cy="1201.8" r="5.3" fill="none" stroke="#808080" stroke-width="3.9"/>
<circle cx="1348.4" cy="1178" r="5.3" fill="none" stroke="#808080" stroke-width="3.9"/>
<circle cx="1358" cy="1118.4" r="5.3" fill="none" stroke="#808080" stroke-width="3.9"/>
<circle cx="1365.5" cy="1216.1" r="5.3" fill="none" stroke="#808080" stroke-width="3.9"/>
<circle cx="1353" cy="1232" r="5.3" fill="none" stroke="#808080" stroke-width="3.9"/>
<circle cx="1402" cy="1035.5" r="5.3" fill="none" stroke="#808080" stroke-width="3.9"/>
<circle cx="1382.3" cy="1157.7" r="5.3" fill="none" stroke="#808080" stroke-width="3.9"/>
<circle cx="1457.3" cy="1145" r="5.3" fill="none" stroke="#808080" stroke-width="3.9"/>
<circle cx="1491.8" cy="1070.7" r="5.3" fill="none" stroke="#808080" stroke-width="3.9"/>
<circle cx="1499.1" cy="1067.7" r="5.3" fill="none" stroke="#808080" stroke-width="3.9"/>
<circle cx="1505.5" cy="1070.7" r="5.3" fill="none" stroke="#808080" stroke-width="3.9"/>
<circle cx="1494.8" cy="1140" r="5.3" fill="none" stroke="#808080" stroke-width="3.9"/>
<circle cx="1487.3" cy="1185" r="5.3" fill="none" stroke="#808080" stroke-width="3.9"/>
<circle cx="1521.8" cy="1153.2" r="5.3" fill="none" stroke="#808080" stroke-width="3.9"/>
<circle cx="1530" cy="1179.8" r="5.3" fill="none" stroke="#808080" stroke-width="3.9"/>
<circle cx="1540.7" cy="1192.7" r="5.3" fill="none" stroke="#808080" stroke-width="3.9"/>
<circle cx="1538" cy="1114.3" r="5.3" fill="none" stroke="#808080" stroke-width="3.9"/>
<circle cx="1548.2" cy="1029.8" r="5.3" fill="none" stroke="#808080" stroke-width="3.9"/>
<circle cx="1567.3" cy="1129.1" r="5.3" fill="none" stroke="#808080" stroke-width="3.9"/>
<circle cx="1609.5" cy="1127.5" r="5.3" fill="none" stroke="#808080" stroke-width="3.9"/>
<circle cx="1635.7" cy="1054.8" r="5.3" fill="none" stroke="#808080" stroke-width="3.9"/>
<line x1="1220" y1="1027.3" x2="1220" y2="1265" stroke="#800080" stroke-width="2.4" stroke-dasharray="2.2 4.2"/>
<path d="M1220 1017.3L1226.2 1031L1220 1028L1213.8 1031Z" fill="#800080"/>
<line x1="1341.9" y1="937.7" x2="1341.9" y2="1249.1" stroke="#c88c0a" stroke-width="2.3"/>
<path d="M1341.9 927.7L1348.1 941.4L1341.9 938.4L1335.7 941.4Z" fill="#c88c0a"/>
<line x1="1408.4" y1="983.6" x2="1408.4" y2="1152.5" stroke="#800080" stroke-width="2.3"/>
<path d="M1408.4 973.6L1414.6 987.3L1408.4 984.3L1402.2 987.3Z" fill="#800080"/>
<line x1="1482.5" y1="907.8" x2="1482.5" y2="1042.3" stroke="#800080" stroke-width="2.3"/>
<path d="M1482.5 897.8L1488.7 911.5L1482.5 908.5L1476.3 911.5Z" fill="#800080"/>
<line x1="1536.6" y1="861.8" x2="1536.6" y2="958.2" stroke="#800080" stroke-width="2.3"/>
<path d="M1536.6 851.8L1542.8 865.5L1536.6 862.5L1530.4 865.5Z" fill="#800080"/>
<line x1="1544.7" y1="688.1" x2="1544.7" y2="945.9" stroke="#800080" stroke-width="2.3"/>
<path d="M1544.7 678.1L1550.9 691.8L1544.7 688.8L1538.5 691.8Z" fill="#800080"/>
<line x1="1627.7" y1="808.3" x2="1627.7" y2="826.1" stroke="#808080" stroke-width="2.3"/>
<path d="M1627.7 798.3L1633.9 812L1627.7 809L1621.5 812Z" fill="#808080"/>
<circle cx="1220" cy="1008.2" r="6.6" fill="#800080"/>
<circle cx="1341.9" cy="914.5" r="7.5" fill="#f0b429"/>
<circle cx="1408.6" cy="963.3" r="6.6" fill="#800080"/>
<circle cx="1482.2" cy="889.2" r="6.6" fill="#800080"/>
<circle cx="1536.8" cy="844.3" r="6.6" fill="#800080"/>
<circle cx="1544.3" cy="666.7" r="6.6" fill="#800080"/>
<circle cx="1627.7" cy="787.6" r="7.5" fill="#808080"/>
<text x="1231.4" y="995.7" font-style="italic" fill="#800080">NF1</text>
<text x="1268.1" y="898.7" font-style="italic" fill="#c88c00">ROBO1</text>
<text x="1367.7" y="952.9" font-style="italic" fill="#800080">TNPO3</text>
<text x="1402" y="873.8" font-style="italic" fill="#800080">KDM5B</text>
<text x="1457.2" y="827.8" font-style="italic" fill="#800080">NARS1</text>
<text x="1556" y="676.8" font-style="italic" fill="#800080">MIB1</text>
<text x="1581.3" y="771.6" font-style="italic" fill="#808080">ASXL1</text>
<circle cx="1059.8" cy="678.4" r="8.1" fill="#800080"/>
<circle cx="1059.8" cy="709.6" r="8.1" fill="#f0b429"/>
<circle cx="1059.8" cy="741.6" r="5.9" fill="#fff" stroke="#808080" stroke-width="4"/>
<circle cx="1059.8" cy="773" r="8.1" fill="#808080"/>
<path d="M1052 804.7h11M1057.5 799.2v11" stroke="#c8c8c8" stroke-width="2.4" fill="none"/>
<text x="1080.4" y="685.9">LoF-2 genes</text>
<text x="1080.4" y="717.1">NanoSeq gene</text>
<text x="1080.4" y="749.1">Other FDR 10% genes</text>
<text x="1080.4" y="780.5">Flagged gene</text>
<text x="1080.4" y="812.2">Other genes</text>
</svg></body></html>
